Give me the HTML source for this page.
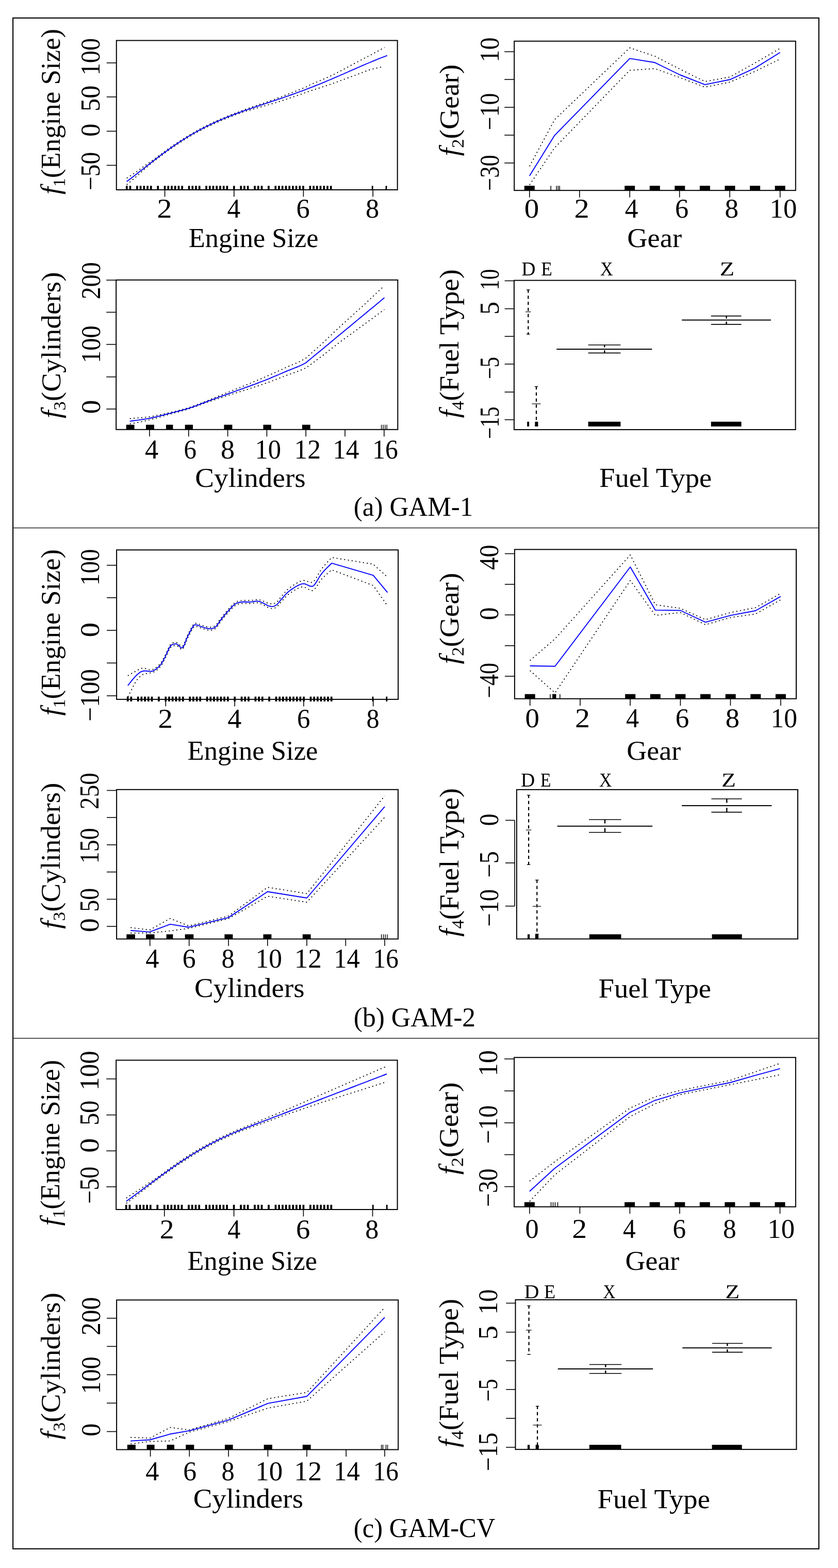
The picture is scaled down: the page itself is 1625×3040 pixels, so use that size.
<!DOCTYPE html>
<html><head><meta charset="utf-8"><title>GAM partial effects</title>
<style>html,body{margin:0;padding:0;background:#fff;}svg{display:block;}text{font-family:'Liberation Serif', 'DejaVu Serif', serif;fill:#000;}</style>
</head><body>
<svg width="1625" height="3040" viewBox="0 0 1625 3040">
<rect x="0" y="0" width="1625" height="3040" fill="#fff"/>
<rect x="25.1" y="34.9" width="1562.8" height="2967.9" fill="none" stroke="#000" stroke-width="2.1"/>
<line x1="25" y1="1023.5" x2="1588" y2="1023.5" stroke="#222" stroke-width="1.4"/>
<line x1="25" y1="2013" x2="1588" y2="2013" stroke="#222" stroke-width="1.4"/>
<rect x="225.8" y="78.5" width="544.9" height="289.5" fill="none" stroke="#000" stroke-width="2.0"/>
<line x1="206.8" y1="121.9" x2="225.8" y2="121.9" stroke="#000" stroke-width="1.6"/>
<line x1="206.8" y1="187.9" x2="225.8" y2="187.9" stroke="#000" stroke-width="1.6"/>
<line x1="206.8" y1="254.4" x2="225.8" y2="254.4" stroke="#000" stroke-width="1.6"/>
<line x1="206.8" y1="320.5" x2="225.8" y2="320.5" stroke="#000" stroke-width="1.6"/>
<line x1="319.6" y1="368" x2="319.6" y2="381.5" stroke="#000" stroke-width="1.6"/>
<line x1="453.8" y1="368" x2="453.8" y2="381.5" stroke="#000" stroke-width="1.6"/>
<line x1="588.4" y1="368" x2="588.4" y2="381.5" stroke="#000" stroke-width="1.6"/>
<line x1="723.2" y1="368" x2="723.2" y2="381.5" stroke="#000" stroke-width="1.6"/>
<line x1="245.8" y1="360.3" x2="245.8" y2="368" stroke="#000" stroke-width="3.7"/>
<line x1="252.5" y1="360.3" x2="252.5" y2="368" stroke="#000" stroke-width="3.7"/>
<line x1="265.9" y1="360.3" x2="265.9" y2="368" stroke="#000" stroke-width="3.7"/>
<line x1="272.6" y1="360.3" x2="272.6" y2="368" stroke="#000" stroke-width="3.7"/>
<line x1="279.3" y1="360.3" x2="279.3" y2="368" stroke="#000" stroke-width="3.7"/>
<line x1="286.1" y1="360.3" x2="286.1" y2="368" stroke="#000" stroke-width="3.7"/>
<line x1="292.8" y1="360.3" x2="292.8" y2="368" stroke="#000" stroke-width="3.7"/>
<line x1="306.2" y1="360.3" x2="306.2" y2="368" stroke="#000" stroke-width="3.7"/>
<line x1="319.6" y1="360.3" x2="319.6" y2="368" stroke="#000" stroke-width="3.7"/>
<line x1="326.3" y1="360.3" x2="326.3" y2="368" stroke="#000" stroke-width="3.7"/>
<line x1="333" y1="360.3" x2="333" y2="368" stroke="#000" stroke-width="3.7"/>
<line x1="339.7" y1="360.3" x2="339.7" y2="368" stroke="#000" stroke-width="3.7"/>
<line x1="346.4" y1="360.3" x2="346.4" y2="368" stroke="#000" stroke-width="3.7"/>
<line x1="353.2" y1="360.3" x2="353.2" y2="368" stroke="#000" stroke-width="3.7"/>
<line x1="366.6" y1="360.3" x2="366.6" y2="368" stroke="#000" stroke-width="3.7"/>
<line x1="373.3" y1="360.3" x2="373.3" y2="368" stroke="#000" stroke-width="3.7"/>
<line x1="380" y1="360.3" x2="380" y2="368" stroke="#000" stroke-width="3.7"/>
<line x1="386.7" y1="360.3" x2="386.7" y2="368" stroke="#000" stroke-width="3.7"/>
<line x1="400.1" y1="360.3" x2="400.1" y2="368" stroke="#000" stroke-width="3.7"/>
<line x1="406.8" y1="360.3" x2="406.8" y2="368" stroke="#000" stroke-width="3.7"/>
<line x1="413.5" y1="360.3" x2="413.5" y2="368" stroke="#000" stroke-width="3.7"/>
<line x1="420.2" y1="360.3" x2="420.2" y2="368" stroke="#000" stroke-width="3.7"/>
<line x1="427" y1="360.3" x2="427" y2="368" stroke="#000" stroke-width="3.7"/>
<line x1="433.7" y1="360.3" x2="433.7" y2="368" stroke="#000" stroke-width="3.7"/>
<line x1="440.4" y1="360.3" x2="440.4" y2="368" stroke="#000" stroke-width="3.7"/>
<line x1="453.8" y1="360.3" x2="453.8" y2="368" stroke="#000" stroke-width="3.7"/>
<line x1="467.2" y1="360.3" x2="467.2" y2="368" stroke="#000" stroke-width="3.7"/>
<line x1="473.9" y1="360.3" x2="473.9" y2="368" stroke="#000" stroke-width="3.7"/>
<line x1="480.6" y1="360.3" x2="480.6" y2="368" stroke="#000" stroke-width="3.7"/>
<line x1="494.1" y1="360.3" x2="494.1" y2="368" stroke="#000" stroke-width="3.7"/>
<line x1="500.8" y1="360.3" x2="500.8" y2="368" stroke="#000" stroke-width="3.7"/>
<line x1="507.5" y1="360.3" x2="507.5" y2="368" stroke="#000" stroke-width="3.7"/>
<line x1="520.9" y1="360.3" x2="520.9" y2="368" stroke="#000" stroke-width="3.7"/>
<line x1="534.3" y1="360.3" x2="534.3" y2="368" stroke="#000" stroke-width="3.7"/>
<line x1="541" y1="360.3" x2="541" y2="368" stroke="#000" stroke-width="3.7"/>
<line x1="547.7" y1="360.3" x2="547.7" y2="368" stroke="#000" stroke-width="3.7"/>
<line x1="554.5" y1="360.3" x2="554.5" y2="368" stroke="#000" stroke-width="3.7"/>
<line x1="561.2" y1="360.3" x2="561.2" y2="368" stroke="#000" stroke-width="3.7"/>
<line x1="567.9" y1="360.3" x2="567.9" y2="368" stroke="#000" stroke-width="3.7"/>
<line x1="574.6" y1="360.3" x2="574.6" y2="368" stroke="#000" stroke-width="3.7"/>
<line x1="581.3" y1="360.3" x2="581.3" y2="368" stroke="#000" stroke-width="3.7"/>
<line x1="588" y1="360.3" x2="588" y2="368" stroke="#000" stroke-width="3.7"/>
<line x1="601.4" y1="360.3" x2="601.4" y2="368" stroke="#000" stroke-width="3.7"/>
<line x1="608.1" y1="360.3" x2="608.1" y2="368" stroke="#000" stroke-width="3.7"/>
<line x1="614.8" y1="360.3" x2="614.8" y2="368" stroke="#000" stroke-width="3.7"/>
<line x1="621.5" y1="360.3" x2="621.5" y2="368" stroke="#000" stroke-width="3.7"/>
<line x1="628.3" y1="360.3" x2="628.3" y2="368" stroke="#000" stroke-width="3.7"/>
<line x1="635" y1="360.3" x2="635" y2="368" stroke="#000" stroke-width="3.7"/>
<line x1="641.7" y1="360.3" x2="641.7" y2="368" stroke="#000" stroke-width="3.7"/>
<line x1="722.2" y1="360.3" x2="722.2" y2="368" stroke="#000" stroke-width="2.8"/>
<line x1="749" y1="360.3" x2="749" y2="368" stroke="#000" stroke-width="2.8"/>
<polyline points="245.7,345.3 249.7,342.8 253.7,340.2 257.7,337.6 261.7,335 265.7,332.3 269.7,329.4 273.7,326.5 277.7,323.5 281.7,320.6 285.7,317.8 289.7,315 293.7,312.2 297.7,309.5 301.7,306.7 305.7,303.6 309.7,300.6 313.7,297.7 317.7,294.7 321.7,291.8 325.7,289 329.7,286.2 333.7,283.4 337.7,280.6 341.7,278 345.7,275.3 349.7,272.7 353.7,270.2 357.7,267.7 361.7,265.2 365.7,262.7 369.7,260.3 373.7,258 377.7,255.7 381.7,253.5 385.7,251.2 389.7,249.1 393.7,247 397.7,244.9 401.7,242.9 405.7,240.9 409.7,239 413.7,237.1 417.7,235.3 421.7,233.5 425.7,231.7 429.7,230 433.7,228.3 437.7,226.6 441.7,225 445.7,223.4 449.7,221.8 453.7,220.3 457.7,218.8 461.7,217.3 465.7,215.8 469.7,214.3 473.7,212.9 477.7,211.4 481.7,210 485.7,208.6 489.7,207.2 493.7,205.8 497.7,204.4 501.7,203 505.7,201.7 509.7,200.3 513.7,198.9 517.7,197.6 521.7,196.2 525.7,194.8 529.7,193.5 533.7,192 537.7,190.5 541.7,189 545.7,187.5 549.7,186 553.7,184.4 557.7,182.9 561.7,181.3 565.7,179.8 569.7,178.2 573.7,176.6 577.7,175 581.7,173.4 585.7,171.8 589.7,170.1 593.7,168.5 597.7,166.4 601.7,164.2 605.7,162.5 609.7,160.9 613.7,159.2 617.7,157.5 621.7,155.8 625.7,154.1 629.7,152.3 633.7,150.6 637.7,148.8 641.7,147 645.7,145.2 649.7,143.2 653.7,141 657.7,138.9 661.7,136.8 665.7,134.7 669.7,132.5 673.7,130.4 677.7,128.2 681.7,126.1 685.7,123.9 689.7,121.8 693.7,119.7 697.7,117.6 701.7,115.5 705.7,113.4 709.7,111.3 713.7,109.3 717.7,107.2 721.7,105.1 725.7,102.8 729.7,100.7 733.7,98.5 737.7,96.3 741.7,94.2 745.7,92.1" fill="none" stroke="#000" stroke-width="1.75" stroke-linejoin="round" stroke-dasharray="2.2 5.2"/>
<polyline points="245.7,358.2 249.7,354.8 253.7,351.4 257.7,348 261.7,344.6 265.7,341.1 269.7,337.5 273.7,333.9 277.7,330.3 281.7,326.6 285.7,323.1 289.7,319.8 293.7,316.6 297.7,313.4 301.7,310.2 305.7,307.2 309.7,304.2 313.7,301.2 317.7,298.2 321.7,295.3 325.7,292.4 329.7,289.5 333.7,286.7 337.7,284 341.7,281.3 345.7,278.6 349.7,276 353.7,273.4 357.7,270.8 361.7,268.4 365.7,265.9 369.7,263.6 373.7,261.2 377.7,258.9 381.7,256.7 385.7,254.5 389.7,252.4 393.7,250.3 397.7,248.2 401.7,246.2 405.7,244.3 409.7,242.4 413.7,240.5 417.7,238.7 421.7,236.9 425.7,235.1 429.7,233.4 433.7,231.7 437.7,230.1 441.7,228.5 445.7,226.9 449.7,225.3 453.7,223.8 457.7,222.3 461.7,220.8 465.7,219.4 469.7,217.9 473.7,216.7 477.7,215.5 481.7,214.3 485.7,213.1 489.7,212 493.7,210.8 497.7,209.7 501.7,208.5 505.7,207.4 509.7,206.2 513.7,205.1 517.7,204 521.7,202.9 525.7,201.7 529.7,200.6 533.7,199.4 537.7,198.1 541.7,196.8 545.7,195.5 549.7,194.2 553.7,192.9 557.7,191.6 561.7,190.2 565.7,188.9 569.7,187.5 573.7,186.1 577.7,184.8 581.7,183.4 585.7,181.9 589.7,180.5 593.7,179 597.7,177.6 601.7,176.2 605.7,174.9 609.7,173.7 613.7,172.4 617.7,171.1 621.7,169.8 625.7,168.4 629.7,167.1 633.7,165.7 637.7,164.4 641.7,163 645.7,161.6 649.7,160.2 653.7,158.7 657.7,157.3 661.7,155.8 665.7,154.3 669.7,152.9 673.7,151.4 677.7,149.9 681.7,148.4 685.7,146.9 689.7,145.4 693.7,143.9 697.7,142.4 701.7,140.9 705.7,139.4 709.7,137.9 713.7,136.4 717.7,135 721.7,133.9 725.7,133 729.7,132 733.7,131.1 737.7,130.3 741.7,129.4" fill="none" stroke="#000" stroke-width="1.75" stroke-linejoin="round" stroke-dasharray="2.2 5.2"/>
<polyline points="245.7,351.9 249.7,348.9 253.7,345.9 257.7,342.9 261.7,339.8 265.7,336.7 269.7,333.6 273.7,330.5 277.7,327.4 281.7,324.2 285.7,321.1 289.7,317.9 293.7,314.8 297.7,311.7 301.7,308.6 305.7,305.6 309.7,302.6 313.7,299.6 317.7,296.6 321.7,293.7 325.7,290.8 329.7,287.9 333.7,285.1 337.7,282.3 341.7,279.6 345.7,276.9 349.7,274.3 353.7,271.7 357.7,269.2 361.7,266.7 365.7,264.3 369.7,261.9 373.7,259.5 377.7,257.2 381.7,255 385.7,252.8 389.7,250.7 393.7,248.6 397.7,246.5 401.7,244.5 405.7,242.6 409.7,240.6 413.7,238.8 417.7,236.9 421.7,235.1 425.7,233.4 429.7,231.7 433.7,230 437.7,228.3 441.7,226.7 445.7,225.1 449.7,223.6 453.7,222 457.7,220.5 461.7,219 465.7,217.6 469.7,216.1 473.7,214.7 477.7,213.3 481.7,211.9 485.7,210.6 489.7,209.2 493.7,207.8 497.7,206.5 501.7,205.1 505.7,203.8 509.7,202.5 513.7,201.2 517.7,199.8 521.7,198.5 525.7,197.2 529.7,195.8 533.7,194.5 537.7,193.2 541.7,191.8 545.7,190.5 549.7,189.1 553.7,187.7 557.7,186.3 561.7,184.9 565.7,183.5 569.7,182.1 573.7,180.7 577.7,179.2 581.7,177.7 585.7,176.3 589.7,174.8 593.7,173.2 597.7,171.7 601.7,170.2 605.7,168.6 609.7,167 613.7,165.4 617.7,163.8 621.7,162.2 625.7,160.6 629.7,158.9 633.7,157.2 637.7,155.5 641.7,153.8 645.7,152.1 649.7,150.4 653.7,148.7 657.7,147 661.7,145.2 665.7,143.5 669.7,141.7 673.7,140 677.7,138.2 681.7,136.4 685.7,134.7 689.7,132.9 693.7,131.2 697.7,129.4 701.7,127.7 705.7,125.9 709.7,124.2 713.7,122.5 717.7,120.8 721.7,119.1 725.7,117.5 729.7,115.9 733.7,114.2 737.7,112.7 741.7,111.1 745.7,109.6 749.7,108.1 750.8,107.7" fill="none" stroke="#0000ff" stroke-width="1.9" stroke-linejoin="round"/>
<rect x="997.2" y="79.8" width="545.6" height="289.4" fill="none" stroke="#000" stroke-width="2.0"/>
<line x1="978.2" y1="100.3" x2="997.2" y2="100.3" stroke="#000" stroke-width="1.6"/>
<line x1="978.2" y1="154.1" x2="997.2" y2="154.1" stroke="#000" stroke-width="1.6"/>
<line x1="978.2" y1="208.1" x2="997.2" y2="208.1" stroke="#000" stroke-width="1.6"/>
<line x1="978.2" y1="262" x2="997.2" y2="262" stroke="#000" stroke-width="1.6"/>
<line x1="978.2" y1="316" x2="997.2" y2="316" stroke="#000" stroke-width="1.6"/>
<line x1="1026.8" y1="369.2" x2="1026.8" y2="382.7" stroke="#000" stroke-width="1.6"/>
<line x1="1123.8" y1="369.2" x2="1123.8" y2="382.7" stroke="#000" stroke-width="1.6"/>
<line x1="1221.2" y1="369.2" x2="1221.2" y2="382.7" stroke="#000" stroke-width="1.6"/>
<line x1="1317.7" y1="369.2" x2="1317.7" y2="382.7" stroke="#000" stroke-width="1.6"/>
<line x1="1415.1" y1="369.2" x2="1415.1" y2="382.7" stroke="#000" stroke-width="1.6"/>
<line x1="1512.7" y1="369.2" x2="1512.7" y2="382.7" stroke="#000" stroke-width="1.6"/>
<rect x="1016.8" y="360.2" width="20" height="9" fill="#000"/>
<rect x="1211.2" y="360.2" width="20" height="9" fill="#000"/>
<rect x="1259.8" y="360.2" width="20" height="9" fill="#000"/>
<rect x="1308.3" y="360.2" width="20" height="9" fill="#000"/>
<rect x="1356.9" y="360.2" width="20" height="9" fill="#000"/>
<rect x="1405.5" y="360.2" width="20" height="9" fill="#000"/>
<rect x="1454.1" y="360.2" width="20" height="9" fill="#000"/>
<rect x="1502.7" y="360.2" width="20" height="9" fill="#000"/>
<line x1="1068.2" y1="360.2" x2="1068.2" y2="369.2" stroke="#000" stroke-width="1.5"/>
<line x1="1079.1" y1="360.2" x2="1079.1" y2="369.2" stroke="#000" stroke-width="1.5"/>
<line x1="1082.4" y1="360.2" x2="1082.4" y2="369.2" stroke="#000" stroke-width="1.5"/>
<line x1="1085.2" y1="360.2" x2="1085.2" y2="369.2" stroke="#000" stroke-width="1.5"/>
<polyline points="1026.8,322.5 1075.4,232.1 1221.2,92.7 1269.8,109 1318.3,134 1366.9,158 1415.5,149.3 1464.1,122 1512.7,93.8" fill="none" stroke="#000" stroke-width="1.75" stroke-linejoin="round" stroke-dasharray="2.2 5.2"/>
<polyline points="1026.8,358.5 1075.4,286.6 1221.2,136.3 1269.8,133 1318.3,150.4 1366.9,169 1415.5,159.1 1464.1,138.4 1512.7,114.5" fill="none" stroke="#000" stroke-width="1.75" stroke-linejoin="round" stroke-dasharray="2.2 5.2"/>
<polyline points="1026.8,341 1075.4,262.6 1221.2,113.4 1269.8,121.3 1318.3,145 1366.9,164.1 1415.5,154.3 1464.1,131.9 1512.7,101.8" fill="none" stroke="#0000ff" stroke-width="1.9" stroke-linejoin="round"/>
<rect x="225.2" y="542.8" width="546.1" height="290" fill="none" stroke="#000" stroke-width="2.0"/>
<line x1="206.2" y1="543.1" x2="225.2" y2="543.1" stroke="#000" stroke-width="1.6"/>
<line x1="206.2" y1="605.4" x2="225.2" y2="605.4" stroke="#000" stroke-width="1.6"/>
<line x1="206.2" y1="667.7" x2="225.2" y2="667.7" stroke="#000" stroke-width="1.6"/>
<line x1="206.2" y1="730.7" x2="225.2" y2="730.7" stroke="#000" stroke-width="1.6"/>
<line x1="206.2" y1="793" x2="225.2" y2="793" stroke="#000" stroke-width="1.6"/>
<line x1="290" y1="832.8" x2="290" y2="846.3" stroke="#000" stroke-width="1.6"/>
<line x1="365.8" y1="832.8" x2="365.8" y2="846.3" stroke="#000" stroke-width="1.6"/>
<line x1="441.6" y1="832.8" x2="441.6" y2="846.3" stroke="#000" stroke-width="1.6"/>
<line x1="517.4" y1="832.8" x2="517.4" y2="846.3" stroke="#000" stroke-width="1.6"/>
<line x1="593.2" y1="832.8" x2="593.2" y2="846.3" stroke="#000" stroke-width="1.6"/>
<line x1="669" y1="832.8" x2="669" y2="846.3" stroke="#000" stroke-width="1.6"/>
<line x1="744.8" y1="832.8" x2="744.8" y2="846.3" stroke="#000" stroke-width="1.6"/>
<rect x="244.7" y="823.5" width="15.9" height="9.3" fill="#000"/>
<rect x="283" y="823.5" width="16" height="9.3" fill="#000"/>
<rect x="322" y="823.5" width="13.4" height="9.3" fill="#000"/>
<rect x="358.7" y="823.5" width="15.3" height="9.3" fill="#000"/>
<rect x="434.4" y="823.5" width="16" height="9.3" fill="#000"/>
<rect x="510.5" y="823.5" width="15.3" height="9.3" fill="#000"/>
<rect x="585.9" y="823.5" width="15.8" height="9.3" fill="#000"/>
<line x1="739.6" y1="823.5" x2="739.6" y2="832.8" stroke="#000" stroke-width="1.4"/>
<line x1="743.2" y1="823.5" x2="743.2" y2="832.8" stroke="#000" stroke-width="1.4"/>
<line x1="746.8" y1="823.5" x2="746.8" y2="832.8" stroke="#000" stroke-width="1.4"/>
<line x1="750.2" y1="823.5" x2="750.2" y2="832.8" stroke="#000" stroke-width="1.4"/>
<polyline points="251.7,811.6 254.7,811.3 258.6,811 263.3,810.7 268.5,810.3 274,809.8 279.6,809.2 285,808.6 290,808 294.7,807.2 299.5,806.3 304.2,805.4 308.9,804.4 313.6,803.4 318.3,802.3 323.1,801.3 327.8,800.2 332.5,799.1 337.3,798 342.1,796.8 346.8,795.6 351.6,794.4 356.4,793.1 361.1,791.8 365.8,790.4 370.5,788.8 375.1,787.2 379.7,785.5 384.3,783.7 388.9,781.9 393.6,780.1 398.2,778.3 403,776.5 407.8,774.5 412.8,772.5 417.7,770.5 422.7,768.5 427.7,766.5 432.7,764.4 437.6,762.4 442.5,760.5 447.3,758.5 452,756.6 456.7,754.7 461.4,752.8 466,751 470.7,749.1 475.3,747.2 480,745.2 484.7,743.3 489.4,741.3 494.2,739.4 498.9,737.4 503.7,735.4 508.4,733.3 513.1,731.3 517.8,729.2 522.6,727.1 527.4,724.9 532.3,722.7 537.2,720.5 542,718.3 546.6,716.2 550.9,714.2 555,712.3 558.8,710.7 562.4,709.1 565.8,707.6 569,706.3 572,705 574.9,703.8 577.5,702.6 580,701.5 582.3,700.4 584.4,699.3 586.4,698.2 588.1,697.2 589.7,696.3 591,695.5 592.2,694.9 593.1,694.3 597.1,690.8 601.1,687.3 605.1,683.7 609.1,680.2 613.1,676.6 617.1,673.1 621.2,669.4 625.2,665.6 629.2,661.8 633.2,658 637.2,654.2 641.2,650.4 645.2,646.6 649.2,642.8 653.2,639 657.2,635.2 661.2,631.4 665.2,627.7 669.2,624.1 673.3,620.5 677.3,616.9 681.3,613.3 685.3,609.6 689.3,606 693.3,602.4 697.3,598.8 701.3,595.2 705.3,591.5 709.3,587.8 713.3,584 717.3,580.2 721.4,576.4 725.4,572.6 729.4,568.9 733.4,565.1 737.4,561.3 741.4,557.5" fill="none" stroke="#000" stroke-width="1.75" stroke-linejoin="round" stroke-dasharray="2.2 5.2"/>
<polyline points="251.7,821.9 254.7,821.3 258.6,820.6 263.3,819.7 268.5,818.7 274,817.6 279.6,816.4 285,815.2 290,814 294.7,812.9 299.5,811.6 304.2,810.3 308.9,809 313.6,807.6 318.3,806.2 323.1,804.8 327.8,803.4 332.5,802.1 337.3,800.8 342.1,799.6 346.8,798.3 351.6,797 356.4,795.7 361.1,794.3 365.8,792.8 370.5,791.3 375.1,789.7 379.7,788.1 384.3,786.4 388.9,784.7 393.6,783 398.2,781.2 403,779.5 407.8,777.9 412.8,776.3 417.7,774.7 422.7,773 427.7,771.4 432.7,769.7 437.6,768.1 442.5,766.5 447.3,765 452,763.5 456.7,762.1 461.4,760.6 466,759.2 470.7,757.7 475.3,756.3 480,754.8 484.7,753.2 489.4,751.7 494.2,750.2 498.9,748.6 503.7,747 508.4,745.4 513.1,743.8 517.8,742.2 522.6,740.5 527.4,738.6 532.3,736.8 537.2,734.9 542,733 546.6,731.2 550.9,729.6 555,728 558.8,726.6 562.4,725.3 565.8,724.1 569,723 572,721.9 574.9,720.9 577.5,719.9 580,718.9 582.3,718 584.4,717.1 586.4,716.3 588.1,715.6 589.7,714.9 591,714.3 592.2,713.8 593.1,713.5 597.1,710.5 601.1,707.6 605.1,704.6 609.1,701.7 613.1,698.7 617.1,695.8 621.2,692.7 625.2,689.6 629.2,686.5 633.2,683.3 637.2,680.2 641.2,677.1 645.2,674 649.2,670.9 653.2,667.8 657.2,664.7 661.2,661.7 665.2,658.8 669.2,655.8 673.3,652.9 677.3,650 681.3,647.1 685.3,644.1 689.3,641.2 693.3,638.3 697.3,635.4 701.3,632.4 705.3,629.5 709.3,626.5 713.3,623.6 717.3,620.7 721.4,617.7 725.4,614.8 729.4,611.8 733.4,608.9 737.4,605.9 741.4,603 745.4,600" fill="none" stroke="#000" stroke-width="1.75" stroke-linejoin="round" stroke-dasharray="2.2 5.2"/>
<polyline points="251.7,816.6 254.7,816.2 258.6,815.7 263.3,815.1 268.5,814.4 274,813.6 279.6,812.8 285,811.9 290,811 294.7,810 299.5,809 304.2,807.9 308.9,806.7 313.6,805.5 318.3,804.3 323.1,803 327.8,801.8 332.5,800.6 337.3,799.4 342.1,798.2 346.8,797 351.6,795.7 356.4,794.4 361.1,793 365.8,791.6 370.5,790.1 375.1,788.5 379.7,786.8 384.3,785.1 388.9,783.3 393.6,781.5 398.2,779.8 403,778 407.8,776.2 412.8,774.4 417.7,772.6 422.7,770.7 427.7,768.9 432.7,767.1 437.6,765.3 442.5,763.5 447.3,761.8 452,760.1 456.7,758.4 461.4,756.7 466,755.1 470.7,753.4 475.3,751.7 480,750 484.7,748.3 489.4,746.5 494.2,744.8 498.9,743 503.7,741.2 508.4,739.4 513.1,737.6 517.8,735.7 522.6,733.8 527.4,731.7 532.3,729.7 537.2,727.6 542,725.5 546.6,723.6 550.9,721.7 555,720 558.8,718.4 562.4,717 565.8,715.6 569,714.4 572,713.2 574.9,712 577.5,711 580,709.9 582.3,708.9 584.4,707.9 586.4,706.9 588.1,706 589.7,705.2 591,704.5 592.2,703.9 593.1,703.4 597.1,700.1 601.1,696.8 605.1,693.4 609.1,690.1 613.1,686.8 617.1,683.5 621.2,680.2 625.2,676.9 629.2,673.5 633.2,670.2 637.2,666.9 641.2,663.6 645.2,660.3 649.2,656.9 653.2,653.6 657.2,650.3 661.2,647 665.2,643.7 669.2,640.3 673.3,637 677.3,633.7 681.3,630.4 685.3,627.1 689.3,623.8 693.3,620.4 697.3,617.1 701.3,613.8 705.3,610.5 709.3,607.2 713.3,603.8 717.3,600.5 721.4,597.2 725.4,593.9 729.4,590.6 733.4,587.3 737.4,583.9 741.4,580.6 745.4,577.3" fill="none" stroke="#0000ff" stroke-width="1.9" stroke-linejoin="round"/>
<rect x="996.9" y="543.6" width="545.7" height="289.4" fill="none" stroke="#000" stroke-width="2.0"/>
<line x1="978.6" y1="544.4" x2="996.9" y2="544.4" stroke="#000" stroke-width="1.6"/>
<line x1="978.6" y1="598.6" x2="996.9" y2="598.6" stroke="#000" stroke-width="1.6"/>
<line x1="978.6" y1="652.2" x2="996.9" y2="652.2" stroke="#000" stroke-width="1.6"/>
<line x1="978.6" y1="705.8" x2="996.9" y2="705.8" stroke="#000" stroke-width="1.6"/>
<line x1="978.6" y1="760.1" x2="996.9" y2="760.1" stroke="#000" stroke-width="1.6"/>
<line x1="978.6" y1="813.7" x2="996.9" y2="813.7" stroke="#000" stroke-width="1.6"/>
<line x1="1024.3" y1="561.4" x2="1024.3" y2="648.5" stroke="#000" stroke-width="2.2" stroke-dasharray="6.3 5.5"/>
<line x1="1021.1" y1="562" x2="1027.5" y2="562" stroke="#000" stroke-width="1.4"/>
<line x1="1021.1" y1="647.9" x2="1027.5" y2="647.9" stroke="#000" stroke-width="1.4"/>
<line x1="1019" y1="604.6" x2="1029.5" y2="604.6" stroke="#333" stroke-width="1.5"/>
<line x1="1040" y1="748.9" x2="1040" y2="825.5" stroke="#000" stroke-width="2.2" stroke-dasharray="6.3 5.5"/>
<line x1="1036.8" y1="749.5" x2="1043.2" y2="749.5" stroke="#000" stroke-width="1.4"/>
<line x1="1036.8" y1="824.9" x2="1043.2" y2="824.9" stroke="#000" stroke-width="1.4"/>
<line x1="1031.4" y1="782.9" x2="1048.4" y2="782.9" stroke="#333" stroke-width="1.5"/>
<line x1="1079.2" y1="676.9" x2="1264.4" y2="676.9" stroke="#000" stroke-width="2.0"/>
<line x1="1140.6" y1="668.7" x2="1203.4" y2="668.7" stroke="#000" stroke-width="1.6"/>
<line x1="1140.6" y1="684.4" x2="1203.4" y2="684.4" stroke="#000" stroke-width="1.6"/>
<line x1="1172.3" y1="668.7" x2="1172.3" y2="673.4" stroke="#000" stroke-width="2.4"/>
<line x1="1172.3" y1="679.2" x2="1172.3" y2="684.4" stroke="#000" stroke-width="2.4"/>
<line x1="1322.2" y1="620.6" x2="1495" y2="620.6" stroke="#000" stroke-width="2.0"/>
<line x1="1378.8" y1="612.6" x2="1437.6" y2="612.6" stroke="#000" stroke-width="1.6"/>
<line x1="1378.8" y1="628.9" x2="1437.6" y2="628.9" stroke="#000" stroke-width="1.6"/>
<line x1="1408.6" y1="612.6" x2="1408.6" y2="617.5" stroke="#000" stroke-width="2.4"/>
<line x1="1408.6" y1="623.5" x2="1408.6" y2="628.9" stroke="#000" stroke-width="2.4"/>
<rect x="1022.2" y="817.6" width="3.9" height="9.2" fill="#000"/>
<rect x="1037.4" y="817.6" width="6" height="9.2" fill="#000"/>
<rect x="1140.6" y="817.6" width="62.8" height="9.2" fill="#000"/>
<rect x="1378.8" y="817.6" width="58.8" height="9.2" fill="#000"/>
<rect x="226.1" y="1066.2" width="546" height="289.7" fill="none" stroke="#000" stroke-width="2.0"/>
<line x1="207.1" y1="1095.9" x2="226.1" y2="1095.9" stroke="#000" stroke-width="1.6"/>
<line x1="207.1" y1="1158.8" x2="226.1" y2="1158.8" stroke="#000" stroke-width="1.6"/>
<line x1="207.1" y1="1222.1" x2="226.1" y2="1222.1" stroke="#000" stroke-width="1.6"/>
<line x1="207.1" y1="1285.4" x2="226.1" y2="1285.4" stroke="#000" stroke-width="1.6"/>
<line x1="207.1" y1="1349" x2="226.1" y2="1349" stroke="#000" stroke-width="1.6"/>
<line x1="321.3" y1="1355.9" x2="321.3" y2="1369.4" stroke="#000" stroke-width="1.6"/>
<line x1="455.2" y1="1355.9" x2="455.2" y2="1369.4" stroke="#000" stroke-width="1.6"/>
<line x1="588.9" y1="1355.9" x2="588.9" y2="1369.4" stroke="#000" stroke-width="1.6"/>
<line x1="723.7" y1="1355.9" x2="723.7" y2="1369.4" stroke="#000" stroke-width="1.6"/>
<line x1="247.7" y1="1350.6" x2="247.7" y2="1360" stroke="#000" stroke-width="3.7"/>
<line x1="254.4" y1="1350.6" x2="254.4" y2="1360" stroke="#000" stroke-width="3.7"/>
<line x1="267.7" y1="1350.6" x2="267.7" y2="1360" stroke="#000" stroke-width="3.7"/>
<line x1="274.4" y1="1350.6" x2="274.4" y2="1360" stroke="#000" stroke-width="3.7"/>
<line x1="281.1" y1="1350.6" x2="281.1" y2="1360" stroke="#000" stroke-width="3.7"/>
<line x1="287.8" y1="1350.6" x2="287.8" y2="1360" stroke="#000" stroke-width="3.7"/>
<line x1="294.5" y1="1350.6" x2="294.5" y2="1360" stroke="#000" stroke-width="3.7"/>
<line x1="307.9" y1="1350.6" x2="307.9" y2="1360" stroke="#000" stroke-width="3.7"/>
<line x1="321.3" y1="1350.6" x2="321.3" y2="1360" stroke="#000" stroke-width="3.7"/>
<line x1="328" y1="1350.6" x2="328" y2="1360" stroke="#000" stroke-width="3.7"/>
<line x1="334.7" y1="1350.6" x2="334.7" y2="1360" stroke="#000" stroke-width="3.7"/>
<line x1="341.4" y1="1350.6" x2="341.4" y2="1360" stroke="#000" stroke-width="3.7"/>
<line x1="348.1" y1="1350.6" x2="348.1" y2="1360" stroke="#000" stroke-width="3.7"/>
<line x1="354.8" y1="1350.6" x2="354.8" y2="1360" stroke="#000" stroke-width="3.7"/>
<line x1="368.2" y1="1350.6" x2="368.2" y2="1360" stroke="#000" stroke-width="3.7"/>
<line x1="374.9" y1="1350.6" x2="374.9" y2="1360" stroke="#000" stroke-width="3.7"/>
<line x1="381.6" y1="1350.6" x2="381.6" y2="1360" stroke="#000" stroke-width="3.7"/>
<line x1="388.2" y1="1350.6" x2="388.2" y2="1360" stroke="#000" stroke-width="3.7"/>
<line x1="401.6" y1="1350.6" x2="401.6" y2="1360" stroke="#000" stroke-width="3.7"/>
<line x1="408.3" y1="1350.6" x2="408.3" y2="1360" stroke="#000" stroke-width="3.7"/>
<line x1="415" y1="1350.6" x2="415" y2="1360" stroke="#000" stroke-width="3.7"/>
<line x1="421.7" y1="1350.6" x2="421.7" y2="1360" stroke="#000" stroke-width="3.7"/>
<line x1="428.4" y1="1350.6" x2="428.4" y2="1360" stroke="#000" stroke-width="3.7"/>
<line x1="435.1" y1="1350.6" x2="435.1" y2="1360" stroke="#000" stroke-width="3.7"/>
<line x1="441.8" y1="1350.6" x2="441.8" y2="1360" stroke="#000" stroke-width="3.7"/>
<line x1="455.2" y1="1350.6" x2="455.2" y2="1360" stroke="#000" stroke-width="3.7"/>
<line x1="468.6" y1="1350.6" x2="468.6" y2="1360" stroke="#000" stroke-width="3.7"/>
<line x1="475.3" y1="1350.6" x2="475.3" y2="1360" stroke="#000" stroke-width="3.7"/>
<line x1="482" y1="1350.6" x2="482" y2="1360" stroke="#000" stroke-width="3.7"/>
<line x1="495.4" y1="1350.6" x2="495.4" y2="1360" stroke="#000" stroke-width="3.7"/>
<line x1="502.1" y1="1350.6" x2="502.1" y2="1360" stroke="#000" stroke-width="3.7"/>
<line x1="508.8" y1="1350.6" x2="508.8" y2="1360" stroke="#000" stroke-width="3.7"/>
<line x1="522.1" y1="1350.6" x2="522.1" y2="1360" stroke="#000" stroke-width="3.7"/>
<line x1="535.5" y1="1350.6" x2="535.5" y2="1360" stroke="#000" stroke-width="3.7"/>
<line x1="542.2" y1="1350.6" x2="542.2" y2="1360" stroke="#000" stroke-width="3.7"/>
<line x1="548.9" y1="1350.6" x2="548.9" y2="1360" stroke="#000" stroke-width="3.7"/>
<line x1="555.6" y1="1350.6" x2="555.6" y2="1360" stroke="#000" stroke-width="3.7"/>
<line x1="562.3" y1="1350.6" x2="562.3" y2="1360" stroke="#000" stroke-width="3.7"/>
<line x1="569" y1="1350.6" x2="569" y2="1360" stroke="#000" stroke-width="3.7"/>
<line x1="575.7" y1="1350.6" x2="575.7" y2="1360" stroke="#000" stroke-width="3.7"/>
<line x1="582.4" y1="1350.6" x2="582.4" y2="1360" stroke="#000" stroke-width="3.7"/>
<line x1="589.1" y1="1350.6" x2="589.1" y2="1360" stroke="#000" stroke-width="3.7"/>
<line x1="602.5" y1="1350.6" x2="602.5" y2="1360" stroke="#000" stroke-width="3.7"/>
<line x1="609.2" y1="1350.6" x2="609.2" y2="1360" stroke="#000" stroke-width="3.7"/>
<line x1="615.9" y1="1350.6" x2="615.9" y2="1360" stroke="#000" stroke-width="3.7"/>
<line x1="622.6" y1="1350.6" x2="622.6" y2="1360" stroke="#000" stroke-width="3.7"/>
<line x1="629.3" y1="1350.6" x2="629.3" y2="1360" stroke="#000" stroke-width="3.7"/>
<line x1="636" y1="1350.6" x2="636" y2="1360" stroke="#000" stroke-width="3.7"/>
<line x1="642.7" y1="1350.6" x2="642.7" y2="1360" stroke="#000" stroke-width="3.7"/>
<line x1="723" y1="1350.6" x2="723" y2="1360" stroke="#000" stroke-width="2.8"/>
<line x1="749.8" y1="1350.6" x2="749.8" y2="1360" stroke="#000" stroke-width="2.8"/>
<polyline points="247.9,1310.1 249.8,1309 252.3,1307.4 255.4,1305.5 258.6,1303.7 261.8,1302.1 264.5,1301 266.8,1299.5 268.9,1298.1 270.8,1297.1 272.8,1296.3 274.9,1295.7 277.3,1295.5 280,1295.7 282.9,1296.4 285.9,1297.4 289,1298.4 292,1298.7 294.8,1298.3 297.4,1297.3 300,1295.9 302.5,1294.3 304.9,1292.5 307.1,1290.5 309.2,1288.4 311.1,1286.3 312.7,1284.1 314.2,1281.7 315.7,1279.2 317.2,1276.4 318.8,1273.4 320.6,1269.8 322.5,1265.7 324.5,1261.3 326.4,1257 328.3,1253.3 330,1250.4 331.5,1248.5 333,1247.2 334.3,1246.5 335.6,1246.1 336.8,1245.9 338,1245.6 339.1,1245.4 340.1,1245.3 341,1245.4 342,1245.7 343.1,1246.1 344.3,1246.6 345.7,1247.6 347.3,1249.3 349,1251 350.7,1252.5 352.4,1253.2 354,1252.7 355.6,1250.8 357.1,1247.8 358.7,1244 360.2,1239.8 361.8,1235.7 363.5,1231.9 365.3,1228.2 367.3,1224.3 369.3,1220.4 371.3,1216.7 373.1,1213.5 374.7,1211.1 376,1209.5 377,1208.7 377.9,1208.3 378.8,1208.3 379.8,1208.4 381.1,1208.6 382.7,1208.9 384.4,1209.5 386.2,1210.3 388.2,1211.2 390.2,1212 392.3,1212.7 394.5,1213.4 397,1214.1 399.5,1214.8 401.9,1215.3 404.4,1215.7 406.6,1215.9 408.7,1215.8 410.6,1215.7 412.5,1215.3 414.3,1214.7 416.1,1213.9 417.8,1212.7 419.4,1211.2 420.9,1209.3 422.4,1207.2 423.9,1204.9 425.5,1202.4 427.4,1199.9 429.5,1197.2 431.8,1194.3 434.3,1191.2 436.8,1188.2 439.3,1185.2 441.8,1182.4 444.2,1179.7 446.7,1177 449.1,1174.3 451.5,1171.9 453.9,1169.8 456.2,1168 458.4,1166.7 460.4,1165.8 462.4,1165.2 464.5,1164.8 466.6,1164.5 468.9,1164.2 471.4,1164 473.9,1164 476.6,1164 479.4,1164.2 482.1,1164.2 484.9,1164.2 487.6,1163.9 490.4,1163.5 493.1,1163 496,1162.6 498.9,1162.5 502,1162.7 505.4,1163.5 509,1164.9 512.8,1166.5 516.5,1168.2 520,1169.5 523,1170.3 525.6,1170.7 527.8,1170.8 529.8,1170.5 531.6,1170 533.4,1169.2 535.3,1168.1 537.2,1166.7 539,1164.8 540.7,1162.7 542.5,1160.4 544.3,1158 546.4,1155.6 548.5,1153.2 550.7,1150.6 552.9,1148 555.4,1145.3 558.1,1142.6 561.2,1140.1 564.8,1137.4 569,1134.6 573.4,1131.7 577.8,1129.2 582.1,1127.2 585.9,1125.9 589.3,1125.4 592.6,1125.9 595.6,1126.9 598.4,1128.1 601,1129 603.2,1129.3 604.9,1129.2 606.2,1128.9 607.1,1128.5 608,1127.6 609.1,1126.3 610.6,1124.4 612.4,1121.7 614.5,1118.3 616.7,1114.4 619,1110.2 621.5,1106.1 624.2,1102.2 627.3,1098.4 630.8,1094.3 634.6,1090.2 638.1,1086.4 641.1,1083.2 643.2,1080.9 723.7,1093.8 751.4,1119" fill="none" stroke="#000" stroke-width="1.75" stroke-linejoin="round" stroke-dasharray="2.2 5.2"/>
<polyline points="247.9,1351.1 249.8,1347.5 252.3,1342.4 255.4,1336.5 258.6,1330.2 261.8,1324.4 264.5,1319.7 266.8,1316.6 268.9,1314.3 270.8,1312.3 272.8,1310.5 274.9,1309 277.3,1307.6 280,1306.5 282.9,1305.8 285.9,1305.4 289,1304.9 292,1304.7 294.8,1304.3 297.4,1303.3 300,1301.9 302.5,1300.3 304.9,1298.5 307.1,1296.5 309.2,1294.4 311.1,1292.3 312.7,1290.1 314.2,1287.7 315.7,1285.2 317.2,1282.4 318.8,1279.4 320.6,1275.8 322.5,1271.7 324.5,1267.3 326.4,1263 328.3,1259.3 330,1256.4 331.5,1254.5 333,1253.2 334.3,1252.5 335.6,1252.1 336.8,1251.9 338,1251.6 339.1,1251.4 340.1,1251.3 341,1251.4 342,1251.7 343.1,1252.1 344.3,1252.6 345.7,1253.6 347.3,1255.3 349,1257 350.7,1258.5 352.4,1259.2 354,1258.7 355.6,1256.8 357.1,1253.8 358.7,1250 360.2,1245.8 361.8,1241.7 363.5,1237.9 365.3,1234.2 367.3,1230.3 369.3,1226.4 371.3,1222.7 373.1,1219.5 374.7,1217.1 376,1215.5 377,1214.7 377.9,1214.3 378.8,1214.3 379.8,1214.4 381.1,1214.6 382.7,1214.9 384.4,1215.5 386.2,1216.3 388.2,1217.2 390.2,1218 392.3,1218.7 394.5,1219.4 397,1220.1 399.5,1220.8 401.9,1221.3 404.4,1221.7 406.6,1221.9 408.7,1221.8 410.6,1221.7 412.5,1221.3 414.3,1220.7 416.1,1219.9 417.8,1218.7 419.4,1217.2 420.9,1215.3 422.4,1213.2 423.9,1210.9 425.5,1208.4 427.4,1205.9 429.5,1203.2 431.8,1200.3 434.3,1197.2 436.8,1194.2 439.3,1191.2 441.8,1188.4 444.2,1185.7 446.7,1183 449.1,1180.3 451.5,1177.9 453.9,1175.8 456.2,1174 458.4,1172.7 460.4,1171.8 462.4,1171.2 464.5,1170.8 466.6,1170.5 468.9,1170.2 471.4,1170 473.9,1170 476.6,1170 479.4,1170.2 482.1,1170.2 484.9,1170.2 487.6,1169.9 490.4,1169.5 493.1,1169 496,1168.6 498.9,1168.5 502,1169 505.4,1170.2 509,1172 512.8,1174.1 516.5,1176.2 520,1178 523,1179.1 525.6,1179.6 527.8,1179.8 529.8,1179.7 531.6,1179.3 533.4,1178.5 535.3,1177.5 537.2,1176.2 539,1174.4 540.7,1172.4 542.5,1170.2 544.3,1167.9 546.4,1165.6 548.5,1163.3 550.7,1160.8 552.9,1158.3 555.4,1155.7 558.1,1153.2 561.2,1150.8 564.8,1148.4 569,1145.7 573.4,1143.1 577.8,1140.8 582.1,1139 585.9,1137.9 589.3,1138.1 592.6,1139.3 595.6,1140.9 598.4,1142.6 601,1144.1 603.2,1144.9 604.9,1145.1 606.2,1145.1 607.1,1144.8 608,1144.2 609.1,1143.1 610.6,1141.5 612.4,1139.2 614.5,1136.2 616.7,1132.7 619,1129.1 621.5,1125.5 624.2,1122.2 627.3,1118.9 630.8,1115.6 634.6,1112.2 638.1,1109.2 641.1,1106.6 643.2,1104.7 723.7,1135.1 751.4,1174.6" fill="none" stroke="#000" stroke-width="1.75" stroke-linejoin="round" stroke-dasharray="2.2 5.2"/>
<polyline points="247.9,1329.1 249.8,1326.8 252.3,1323.5 255.4,1319.7 258.6,1315.8 261.8,1312.2 264.5,1309.3 266.8,1307.2 268.9,1305.4 270.8,1303.9 272.8,1302.7 274.9,1301.8 277.3,1301 280,1300.7 282.9,1300.8 285.9,1301.2 289,1301.6 292,1301.7 294.8,1301.3 297.4,1300.3 300,1298.9 302.5,1297.3 304.9,1295.5 307.1,1293.5 309.2,1291.4 311.1,1289.3 312.7,1287.1 314.2,1284.7 315.7,1282.2 317.2,1279.4 318.8,1276.4 320.6,1272.8 322.5,1268.7 324.5,1264.3 326.4,1260 328.3,1256.3 330,1253.4 331.5,1251.5 333,1250.2 334.3,1249.5 335.6,1249.1 336.8,1248.9 338,1248.6 339.1,1248.4 340.1,1248.3 341,1248.4 342,1248.7 343.1,1249.1 344.3,1249.6 345.7,1250.6 347.3,1252.3 349,1254 350.7,1255.5 352.4,1256.2 354,1255.7 355.6,1253.8 357.1,1250.8 358.7,1247 360.2,1242.8 361.8,1238.7 363.5,1234.9 365.3,1231.2 367.3,1227.3 369.3,1223.4 371.3,1219.7 373.1,1216.5 374.7,1214.1 376,1212.5 377,1211.7 377.9,1211.3 378.8,1211.3 379.8,1211.4 381.1,1211.6 382.7,1211.9 384.4,1212.5 386.2,1213.3 388.2,1214.2 390.2,1215 392.3,1215.7 394.5,1216.4 397,1217.1 399.5,1217.8 401.9,1218.3 404.4,1218.7 406.6,1218.9 408.7,1218.8 410.6,1218.7 412.5,1218.3 414.3,1217.7 416.1,1216.9 417.8,1215.7 419.4,1214.2 420.9,1212.3 422.4,1210.2 423.9,1207.9 425.5,1205.4 427.4,1202.9 429.5,1200.2 431.8,1197.3 434.3,1194.2 436.8,1191.2 439.3,1188.2 441.8,1185.4 444.2,1182.7 446.7,1180 449.1,1177.3 451.5,1174.9 453.9,1172.8 456.2,1171 458.4,1169.7 460.4,1168.8 462.4,1168.2 464.5,1167.8 466.6,1167.5 468.9,1167.2 471.4,1167 473.9,1167 476.6,1167 479.4,1167.2 482.1,1167.2 484.9,1167.2 487.6,1166.9 490.4,1166.5 493.1,1166 496,1165.6 498.9,1165.5 502,1165.9 505.4,1167 509,1168.7 512.8,1170.6 516.5,1172.6 520,1174.3 523,1175.3 525.6,1175.7 527.8,1175.9 529.8,1175.7 531.6,1175.2 533.4,1174.4 535.3,1173.3 537.2,1171.9 539,1170.1 540.7,1168 542.5,1165.7 544.3,1163.3 546.4,1161 548.5,1158.6 550.7,1156.1 552.9,1153.4 555.4,1150.8 558.1,1148.2 561.2,1145.7 564.8,1143.1 569,1140.3 573.4,1137.5 577.8,1135.1 582.1,1133.1 585.9,1131.9 589.3,1131.7 592.6,1132.5 595.6,1133.8 598.4,1135.1 601,1136.3 603.2,1136.8 604.9,1136.8 606.2,1136.7 607.1,1136.3 608,1135.6 609.1,1134.4 610.6,1132.6 612.4,1130.1 614.5,1126.8 616.7,1123.1 619,1119.1 621.5,1115.2 624.2,1111.6 627.3,1108 630.8,1104.2 634.6,1100.4 638.1,1097 641.1,1094 643.2,1091.9 723.7,1115.3 751.4,1148.6" fill="none" stroke="#0000ff" stroke-width="1.9" stroke-linejoin="round"/>
<rect x="997.9" y="1065.3" width="546.1" height="289.4" fill="none" stroke="#000" stroke-width="2.0"/>
<line x1="978.9" y1="1073.5" x2="997.9" y2="1073.5" stroke="#000" stroke-width="1.6"/>
<line x1="978.9" y1="1132.8" x2="997.9" y2="1132.8" stroke="#000" stroke-width="1.6"/>
<line x1="978.9" y1="1192.2" x2="997.9" y2="1192.2" stroke="#000" stroke-width="1.6"/>
<line x1="978.9" y1="1251.8" x2="997.9" y2="1251.8" stroke="#000" stroke-width="1.6"/>
<line x1="978.9" y1="1311.1" x2="997.9" y2="1311.1" stroke="#000" stroke-width="1.6"/>
<line x1="1027.7" y1="1354.7" x2="1027.7" y2="1368.2" stroke="#000" stroke-width="1.6"/>
<line x1="1125" y1="1354.7" x2="1125" y2="1368.2" stroke="#000" stroke-width="1.6"/>
<line x1="1222" y1="1354.7" x2="1222" y2="1368.2" stroke="#000" stroke-width="1.6"/>
<line x1="1319.4" y1="1354.7" x2="1319.4" y2="1368.2" stroke="#000" stroke-width="1.6"/>
<line x1="1416.5" y1="1354.7" x2="1416.5" y2="1368.2" stroke="#000" stroke-width="1.6"/>
<line x1="1513.9" y1="1354.7" x2="1513.9" y2="1368.2" stroke="#000" stroke-width="1.6"/>
<rect x="1017.7" y="1345.7" width="20" height="9" fill="#000"/>
<rect x="1212.2" y="1345.7" width="20" height="9" fill="#000"/>
<rect x="1260.8" y="1345.7" width="20" height="9" fill="#000"/>
<rect x="1309.4" y="1345.7" width="20" height="9" fill="#000"/>
<rect x="1358" y="1345.7" width="20" height="9" fill="#000"/>
<rect x="1406.7" y="1345.7" width="20" height="9" fill="#000"/>
<rect x="1455.3" y="1345.7" width="20" height="9" fill="#000"/>
<rect x="1503.9" y="1345.7" width="20" height="9" fill="#000"/>
<line x1="1067" y1="1345.7" x2="1067" y2="1354.7" stroke="#000" stroke-width="1.5"/>
<line x1="1072" y1="1345.7" x2="1072" y2="1354.7" stroke="#000" stroke-width="1.5"/>
<line x1="1074.5" y1="1345.7" x2="1074.5" y2="1354.7" stroke="#000" stroke-width="1.5"/>
<line x1="1077" y1="1345.7" x2="1077" y2="1354.7" stroke="#000" stroke-width="1.5"/>
<line x1="1085.8" y1="1345.7" x2="1085.8" y2="1354.7" stroke="#000" stroke-width="1.5"/>
<rect x="1071.4" y="1345.7" width="7" height="9" fill="#000"/>
<polyline points="1027.7,1280.5 1076.3,1238.5 1222.2,1075.9 1270.8,1172.5 1319.4,1179.4 1368,1201.4 1416.7,1187.6 1465.3,1178 1513.9,1150.4" fill="none" stroke="#000" stroke-width="1.75" stroke-linejoin="round" stroke-dasharray="2.2 5.2"/>
<polyline points="1027.7,1300.1 1076.3,1343.3 1222.2,1125.5 1270.8,1193.1 1319.4,1187.6 1368,1211.1 1416.7,1197.3 1465.3,1190.4 1513.9,1162.8" fill="none" stroke="#000" stroke-width="1.75" stroke-linejoin="round" stroke-dasharray="2.2 5.2"/>
<polyline points="1027.7,1291 1076.3,1291.8 1222.2,1099.3 1270.8,1182.9 1319.4,1183.5 1368,1206.4 1416.7,1193.1 1465.3,1184 1513.9,1156.4" fill="none" stroke="#0000ff" stroke-width="1.9" stroke-linejoin="round"/>
<rect x="226.1" y="1530.8" width="545.8" height="289.7" fill="none" stroke="#000" stroke-width="2.0"/>
<line x1="207.1" y1="1532.5" x2="226.1" y2="1532.5" stroke="#000" stroke-width="1.6"/>
<line x1="207.1" y1="1584.9" x2="226.1" y2="1584.9" stroke="#000" stroke-width="1.6"/>
<line x1="207.1" y1="1637.9" x2="226.1" y2="1637.9" stroke="#000" stroke-width="1.6"/>
<line x1="207.1" y1="1690.6" x2="226.1" y2="1690.6" stroke="#000" stroke-width="1.6"/>
<line x1="207.1" y1="1743.4" x2="226.1" y2="1743.4" stroke="#000" stroke-width="1.6"/>
<line x1="207.1" y1="1796.1" x2="226.1" y2="1796.1" stroke="#000" stroke-width="1.6"/>
<line x1="290.7" y1="1820.5" x2="290.7" y2="1834" stroke="#000" stroke-width="1.6"/>
<line x1="366.7" y1="1820.5" x2="366.7" y2="1834" stroke="#000" stroke-width="1.6"/>
<line x1="443.1" y1="1820.5" x2="443.1" y2="1834" stroke="#000" stroke-width="1.6"/>
<line x1="518.8" y1="1820.5" x2="518.8" y2="1834" stroke="#000" stroke-width="1.6"/>
<line x1="595" y1="1820.5" x2="595" y2="1834" stroke="#000" stroke-width="1.6"/>
<line x1="670.3" y1="1820.5" x2="670.3" y2="1834" stroke="#000" stroke-width="1.6"/>
<line x1="746" y1="1820.5" x2="746" y2="1834" stroke="#000" stroke-width="1.6"/>
<rect x="245.3" y="1811.4" width="16.6" height="9.1" fill="#000"/>
<rect x="283" y="1811.4" width="16.6" height="9.1" fill="#000"/>
<rect x="322.6" y="1811.4" width="12.8" height="9.1" fill="#000"/>
<rect x="358.7" y="1811.4" width="16.6" height="9.1" fill="#000"/>
<rect x="435.4" y="1811.4" width="16" height="9.1" fill="#000"/>
<rect x="510.5" y="1811.4" width="15.9" height="9.1" fill="#000"/>
<rect x="586.8" y="1811.4" width="15.8" height="9.1" fill="#000"/>
<line x1="739.6" y1="1811.4" x2="739.6" y2="1820.5" stroke="#000" stroke-width="1.4"/>
<line x1="743.5" y1="1811.4" x2="743.5" y2="1820.5" stroke="#000" stroke-width="1.4"/>
<line x1="747.2" y1="1811.4" x2="747.2" y2="1820.5" stroke="#000" stroke-width="1.4"/>
<line x1="751" y1="1811.4" x2="751" y2="1820.5" stroke="#000" stroke-width="1.4"/>
<polyline points="253.3,1798.3 290,1803.1 330,1780.7 366.1,1795.1 442.7,1776.1 518.8,1720.3 595,1732.5 746,1543" fill="none" stroke="#000" stroke-width="1.75" stroke-linejoin="round" stroke-dasharray="2.2 5.2"/>
<polyline points="253.3,1808.8 290,1808.8 330,1804.7 366.1,1799.9 442.7,1781.2 518.8,1737.6 595,1749.2 746,1584.5" fill="none" stroke="#000" stroke-width="1.75" stroke-linejoin="round" stroke-dasharray="2.2 5.2"/>
<polyline points="253.3,1804 290,1806.9 330,1791.9 366.1,1797.7 442.7,1779.1 518.8,1728.8 595,1741 746,1563.8" fill="none" stroke="#0000ff" stroke-width="1.9" stroke-linejoin="round"/>
<rect x="1001.9" y="1530.9" width="545.1" height="289.5" fill="none" stroke="#000" stroke-width="2.0"/>
<line x1="998" y1="1590.4" x2="998" y2="1756.7" stroke="#000" stroke-width="1.6"/>
<line x1="980" y1="1590.4" x2="998" y2="1590.4" stroke="#000" stroke-width="1.6"/>
<line x1="980" y1="1673" x2="998" y2="1673" stroke="#000" stroke-width="1.6"/>
<line x1="980" y1="1756.7" x2="998" y2="1756.7" stroke="#000" stroke-width="1.6"/>
<line x1="1025.1" y1="1541" x2="1025.1" y2="1676.9" stroke="#000" stroke-width="2.2" stroke-dasharray="6.3 5.5"/>
<line x1="1021.9" y1="1541.6" x2="1028.3" y2="1541.6" stroke="#000" stroke-width="1.4"/>
<line x1="1021.9" y1="1676.3" x2="1028.3" y2="1676.3" stroke="#000" stroke-width="1.4"/>
<line x1="1019.9" y1="1609.2" x2="1030.3" y2="1609.2" stroke="#333" stroke-width="1.5"/>
<line x1="1041.3" y1="1705.7" x2="1041.3" y2="1811.6" stroke="#000" stroke-width="2.2" stroke-dasharray="6.3 5.5"/>
<line x1="1038.1" y1="1706.3" x2="1044.5" y2="1706.3" stroke="#000" stroke-width="1.4"/>
<line x1="1038.1" y1="1811" x2="1044.5" y2="1811" stroke="#000" stroke-width="1.4"/>
<line x1="1033" y1="1757.2" x2="1049.2" y2="1757.2" stroke="#333" stroke-width="1.5"/>
<line x1="1080.6" y1="1601.7" x2="1265.2" y2="1601.7" stroke="#000" stroke-width="2.0"/>
<line x1="1142" y1="1589" x2="1204.5" y2="1589" stroke="#000" stroke-width="1.6"/>
<line x1="1142" y1="1613.7" x2="1204.5" y2="1613.7" stroke="#000" stroke-width="1.6"/>
<line x1="1173" y1="1589" x2="1173" y2="1596.4" stroke="#000" stroke-width="2.4"/>
<line x1="1173" y1="1605.5" x2="1173" y2="1613.7" stroke="#000" stroke-width="2.4"/>
<line x1="1322.2" y1="1561.9" x2="1496.5" y2="1561.9" stroke="#000" stroke-width="2.0"/>
<line x1="1379.5" y1="1548.8" x2="1438.7" y2="1548.8" stroke="#000" stroke-width="1.6"/>
<line x1="1379.5" y1="1574.6" x2="1438.7" y2="1574.6" stroke="#000" stroke-width="1.6"/>
<line x1="1409.3" y1="1548.8" x2="1409.3" y2="1556.5" stroke="#000" stroke-width="2.4"/>
<line x1="1409.3" y1="1566.1" x2="1409.3" y2="1574.6" stroke="#000" stroke-width="2.4"/>
<rect x="1023" y="1811.4" width="4.2" height="9" fill="#000"/>
<rect x="1037.9" y="1811.4" width="6.3" height="9" fill="#000"/>
<rect x="1142.8" y="1811.4" width="61.7" height="9" fill="#000"/>
<rect x="1380.6" y="1811.4" width="58.1" height="9" fill="#000"/>
<rect x="225.2" y="2055.5" width="545.4" height="289.5" fill="none" stroke="#000" stroke-width="2.0"/>
<line x1="206.2" y1="2091.7" x2="225.2" y2="2091.7" stroke="#000" stroke-width="1.6"/>
<line x1="206.2" y1="2161.6" x2="225.2" y2="2161.6" stroke="#000" stroke-width="1.6"/>
<line x1="206.2" y1="2231.3" x2="225.2" y2="2231.3" stroke="#000" stroke-width="1.6"/>
<line x1="206.2" y1="2300.9" x2="225.2" y2="2300.9" stroke="#000" stroke-width="1.6"/>
<line x1="318.8" y1="2345" x2="318.8" y2="2358.5" stroke="#000" stroke-width="1.6"/>
<line x1="453.6" y1="2345" x2="453.6" y2="2358.5" stroke="#000" stroke-width="1.6"/>
<line x1="588.4" y1="2345" x2="588.4" y2="2358.5" stroke="#000" stroke-width="1.6"/>
<line x1="722.5" y1="2345" x2="722.5" y2="2358.5" stroke="#000" stroke-width="1.6"/>
<line x1="244.7" y1="2335.8" x2="244.7" y2="2345" stroke="#000" stroke-width="3.7"/>
<line x1="251.4" y1="2335.8" x2="251.4" y2="2345" stroke="#000" stroke-width="3.7"/>
<line x1="264.9" y1="2335.8" x2="264.9" y2="2345" stroke="#000" stroke-width="3.7"/>
<line x1="271.6" y1="2335.8" x2="271.6" y2="2345" stroke="#000" stroke-width="3.7"/>
<line x1="278.4" y1="2335.8" x2="278.4" y2="2345" stroke="#000" stroke-width="3.7"/>
<line x1="285.1" y1="2335.8" x2="285.1" y2="2345" stroke="#000" stroke-width="3.7"/>
<line x1="291.8" y1="2335.8" x2="291.8" y2="2345" stroke="#000" stroke-width="3.7"/>
<line x1="305.3" y1="2335.8" x2="305.3" y2="2345" stroke="#000" stroke-width="3.7"/>
<line x1="318.8" y1="2335.8" x2="318.8" y2="2345" stroke="#000" stroke-width="3.7"/>
<line x1="325.5" y1="2335.8" x2="325.5" y2="2345" stroke="#000" stroke-width="3.7"/>
<line x1="332.3" y1="2335.8" x2="332.3" y2="2345" stroke="#000" stroke-width="3.7"/>
<line x1="339" y1="2335.8" x2="339" y2="2345" stroke="#000" stroke-width="3.7"/>
<line x1="345.8" y1="2335.8" x2="345.8" y2="2345" stroke="#000" stroke-width="3.7"/>
<line x1="352.5" y1="2335.8" x2="352.5" y2="2345" stroke="#000" stroke-width="3.7"/>
<line x1="366" y1="2335.8" x2="366" y2="2345" stroke="#000" stroke-width="3.7"/>
<line x1="372.7" y1="2335.8" x2="372.7" y2="2345" stroke="#000" stroke-width="3.7"/>
<line x1="379.5" y1="2335.8" x2="379.5" y2="2345" stroke="#000" stroke-width="3.7"/>
<line x1="386.2" y1="2335.8" x2="386.2" y2="2345" stroke="#000" stroke-width="3.7"/>
<line x1="399.7" y1="2335.8" x2="399.7" y2="2345" stroke="#000" stroke-width="3.7"/>
<line x1="406.4" y1="2335.8" x2="406.4" y2="2345" stroke="#000" stroke-width="3.7"/>
<line x1="413.2" y1="2335.8" x2="413.2" y2="2345" stroke="#000" stroke-width="3.7"/>
<line x1="419.9" y1="2335.8" x2="419.9" y2="2345" stroke="#000" stroke-width="3.7"/>
<line x1="426.6" y1="2335.8" x2="426.6" y2="2345" stroke="#000" stroke-width="3.7"/>
<line x1="433.4" y1="2335.8" x2="433.4" y2="2345" stroke="#000" stroke-width="3.7"/>
<line x1="440.1" y1="2335.8" x2="440.1" y2="2345" stroke="#000" stroke-width="3.7"/>
<line x1="453.6" y1="2335.8" x2="453.6" y2="2345" stroke="#000" stroke-width="3.7"/>
<line x1="467.1" y1="2335.8" x2="467.1" y2="2345" stroke="#000" stroke-width="3.7"/>
<line x1="473.8" y1="2335.8" x2="473.8" y2="2345" stroke="#000" stroke-width="3.7"/>
<line x1="480.6" y1="2335.8" x2="480.6" y2="2345" stroke="#000" stroke-width="3.7"/>
<line x1="494" y1="2335.8" x2="494" y2="2345" stroke="#000" stroke-width="3.7"/>
<line x1="500.8" y1="2335.8" x2="500.8" y2="2345" stroke="#000" stroke-width="3.7"/>
<line x1="507.5" y1="2335.8" x2="507.5" y2="2345" stroke="#000" stroke-width="3.7"/>
<line x1="521" y1="2335.8" x2="521" y2="2345" stroke="#000" stroke-width="3.7"/>
<line x1="534.5" y1="2335.8" x2="534.5" y2="2345" stroke="#000" stroke-width="3.7"/>
<line x1="541.2" y1="2335.8" x2="541.2" y2="2345" stroke="#000" stroke-width="3.7"/>
<line x1="548" y1="2335.8" x2="548" y2="2345" stroke="#000" stroke-width="3.7"/>
<line x1="554.7" y1="2335.8" x2="554.7" y2="2345" stroke="#000" stroke-width="3.7"/>
<line x1="561.4" y1="2335.8" x2="561.4" y2="2345" stroke="#000" stroke-width="3.7"/>
<line x1="568.2" y1="2335.8" x2="568.2" y2="2345" stroke="#000" stroke-width="3.7"/>
<line x1="574.9" y1="2335.8" x2="574.9" y2="2345" stroke="#000" stroke-width="3.7"/>
<line x1="581.7" y1="2335.8" x2="581.7" y2="2345" stroke="#000" stroke-width="3.7"/>
<line x1="588.4" y1="2335.8" x2="588.4" y2="2345" stroke="#000" stroke-width="3.7"/>
<line x1="601.9" y1="2335.8" x2="601.9" y2="2345" stroke="#000" stroke-width="3.7"/>
<line x1="608.6" y1="2335.8" x2="608.6" y2="2345" stroke="#000" stroke-width="3.7"/>
<line x1="615.4" y1="2335.8" x2="615.4" y2="2345" stroke="#000" stroke-width="3.7"/>
<line x1="622.1" y1="2335.8" x2="622.1" y2="2345" stroke="#000" stroke-width="3.7"/>
<line x1="628.8" y1="2335.8" x2="628.8" y2="2345" stroke="#000" stroke-width="3.7"/>
<line x1="635.6" y1="2335.8" x2="635.6" y2="2345" stroke="#000" stroke-width="3.7"/>
<line x1="642.3" y1="2335.8" x2="642.3" y2="2345" stroke="#000" stroke-width="3.7"/>
<line x1="723.2" y1="2335.8" x2="723.2" y2="2345" stroke="#000" stroke-width="2.8"/>
<line x1="750.2" y1="2335.8" x2="750.2" y2="2345" stroke="#000" stroke-width="2.8"/>
<polyline points="244.8,2322.7 248.8,2320.1 252.8,2317.6 256.8,2315 260.8,2312.4 264.8,2309.8 268.8,2307.1 272.8,2304.5 276.8,2301.8 280.8,2299.1 284.8,2296.5 288.8,2293.8 292.8,2291.1 296.8,2288.4 300.8,2285.7 304.8,2282.8 308.8,2279.8 312.8,2276.9 316.8,2274 320.8,2271.1 324.8,2268.2 328.8,2265.3 332.8,2262.5 336.8,2259.7 340.8,2256.9 344.8,2254.2 348.8,2251.5 352.8,2248.8 356.8,2246.2 360.8,2243.5 364.8,2241 368.8,2238.4 372.8,2235.9 376.8,2233.5 380.8,2231 384.8,2228.7 388.8,2226.3 392.8,2224 396.8,2221.7 400.8,2219.5 404.8,2217.3 408.8,2215.2 412.8,2213.1 416.8,2211 420.8,2209 424.8,2207 428.8,2205 432.8,2203.1 436.8,2201.2 440.8,2199.4 444.8,2197.6 448.8,2195.8 452.8,2194 456.8,2192.3 460.8,2190.6 464.8,2189 468.8,2187.4 472.8,2185.7 476.8,2184 484,2181.2 488,2179.5 492,2177.9 496,2176.3 500,2174.6 504,2173 508,2171.3 512,2169.7 516,2168.1 520,2166.4 524,2164.8 528,2163.1 532,2161.5 536,2159.9 540,2158.2 544,2156.6 548,2154.9 552,2153.2 556,2151.4 560,2149.7 564,2147.9 568,2146.2 572,2144.4 576,2142.7 580,2141 584,2139.2 588,2137.5 592,2135.7 596,2134 600,2132.2 604,2130.5 608,2128.8 612,2127 616,2125.3 620,2123.5 624,2121.8 628,2120 632,2118.3 636,2116.6 640,2114.8 644,2113.1 648,2111.4 652,2109.6 656,2107.9 660,2106.2 664,2104.4 668,2102.7 672,2101 676,2099.2 680,2097.5 684,2095.8 688,2094 692,2092.3 696,2090.5 700,2088.8 704,2087.1 708,2085.3 712,2083.6 716,2081.9 720,2080.1 724,2078.4 728,2076.7 732,2074.9 736,2073.2 740,2071.5 744,2069.7 748,2068 750.2,2067.1" fill="none" stroke="#000" stroke-width="1.75" stroke-linejoin="round" stroke-dasharray="2.2 5.2"/>
<polyline points="244.8,2333 248.8,2330.1 252.8,2327.1 256.8,2324.1 260.8,2321 264.8,2318 268.8,2314.9 272.8,2311.8 276.8,2308.7 280.8,2305.6 284.8,2302.5 288.8,2299.4 292.8,2296.3 296.8,2293.2 300.8,2290.1 304.8,2287.2 308.8,2284.2 312.8,2281.3 316.8,2278.4 320.8,2275.5 324.8,2272.7 328.8,2269.8 332.8,2267 336.8,2264.2 340.8,2261.5 344.8,2258.8 348.8,2256.1 352.8,2253.4 356.8,2250.8 360.8,2248.2 364.8,2245.6 368.8,2243.1 372.8,2240.6 376.8,2238.1 380.8,2235.7 384.8,2233.4 388.8,2231 392.8,2228.7 396.8,2226.5 400.8,2224.3 404.8,2222.1 408.8,2220 412.8,2217.9 416.8,2215.8 420.8,2213.8 424.8,2211.8 428.8,2209.9 432.8,2208 436.8,2206.1 440.8,2204.3 444.8,2202.5 448.8,2200.7 452.8,2199 456.8,2197.3 460.8,2195.6 464.8,2194 468.8,2192.4 472.8,2190.8 476.8,2189.3 484,2186.8 488,2185.4 492,2183.9 496,2182.5 500,2181 504,2179.5 508,2178.1 512,2176.6 516,2175.2 520,2173.7 524,2172.3 528,2170.8 532,2169.3 536,2167.9 540,2166.4 544,2165 548,2163.5 552,2162.1 556,2160.7 560,2159.3 564,2158 568,2156.6 572,2155.2 576,2153.8 580,2152.5 584,2151.1 588,2149.7 592,2148.4 596,2147 600,2145.6 604,2144.2 608,2142.9 612,2141.5 616,2140.1 620,2138.8 624,2137.4 628,2136.1 632,2134.8 636,2133.5 640,2132.3 644,2131 648,2129.7 652,2128.4 656,2127.2 660,2125.9 664,2124.6 668,2123.4 672,2122.1 676,2120.8 680,2119.6 684,2118.3 688,2117 692,2115.7 696,2114.5 700,2113.2 704,2111.9 708,2110.7 712,2109.4 716,2108.1 720,2106.9 724,2105.6 728,2104.3 732,2103 736,2101.8 740,2100.5 744,2099.2 748,2098 750.2,2097.3" fill="none" stroke="#000" stroke-width="1.75" stroke-linejoin="round" stroke-dasharray="2.2 5.2"/>
<polyline points="244.8,2329.1 248.8,2326.2 252.8,2323.4 256.8,2320.5 260.8,2317.6 264.8,2314.6 268.8,2311.7 272.8,2308.7 276.8,2305.8 280.8,2302.8 284.8,2299.8 288.8,2296.8 292.8,2293.9 296.8,2290.9 300.8,2287.9 304.8,2285 308.8,2282 312.8,2279.1 316.8,2276.2 320.8,2273.3 324.8,2270.4 328.8,2267.6 332.8,2264.8 336.8,2262 340.8,2259.2 344.8,2256.5 348.8,2253.8 352.8,2251.1 356.8,2248.5 360.8,2245.9 364.8,2243.3 368.8,2240.8 372.8,2238.3 376.8,2235.8 380.8,2233.4 384.8,2231 388.8,2228.7 392.8,2226.4 396.8,2224.1 400.8,2221.9 404.8,2219.7 408.8,2217.6 412.8,2215.5 416.8,2213.4 420.8,2211.4 424.8,2209.4 428.8,2207.4 432.8,2205.5 436.8,2203.7 440.8,2201.8 444.8,2200 448.8,2198.2 452.8,2196.5 456.8,2194.8 460.8,2193.1 464.8,2191.5 468.8,2189.9 472.8,2188.3 476.8,2186.7 484,2184.1 488,2182.5 492,2181 496,2179.5 500,2177.9 504,2176.4 508,2174.9 512,2173.3 516,2171.8 520,2170.3 524,2168.8 528,2167.2 532,2165.7 536,2164.2 540,2162.6 544,2161.1 548,2159.6 552,2158 556,2156.5 560,2155 564,2153.4 568,2151.9 572,2150.4 576,2148.8 580,2147.3 584,2145.8 588,2144.3 592,2142.7 596,2141.2 600,2139.7 604,2138.1 608,2136.6 612,2135.1 616,2133.5 620,2132 624,2130.5 628,2128.9 632,2127.4 636,2125.9 640,2124.3 644,2122.8 648,2121.3 652,2119.7 656,2118.2 660,2116.7 664,2115.2 668,2113.6 672,2112.1 676,2110.6 680,2109 684,2107.5 688,2106 692,2104.4 696,2102.9 700,2101.4 704,2099.8 708,2098.3 712,2096.8 716,2095.2 720,2093.7 724,2092.2 728,2090.7 732,2089.1 736,2087.6 740,2086.1 744,2084.5 748,2083 750.2,2082.2" fill="none" stroke="#0000ff" stroke-width="1.9" stroke-linejoin="round"/>
<rect x="997.1" y="2050.2" width="545.8" height="289.5" fill="none" stroke="#000" stroke-width="2.0"/>
<line x1="978.1" y1="2053" x2="997.1" y2="2053" stroke="#000" stroke-width="1.6"/>
<line x1="978.1" y1="2115" x2="997.1" y2="2115" stroke="#000" stroke-width="1.6"/>
<line x1="978.1" y1="2176.9" x2="997.1" y2="2176.9" stroke="#000" stroke-width="1.6"/>
<line x1="978.1" y1="2238.6" x2="997.1" y2="2238.6" stroke="#000" stroke-width="1.6"/>
<line x1="978.1" y1="2300.6" x2="997.1" y2="2300.6" stroke="#000" stroke-width="1.6"/>
<line x1="1026.9" y1="2339.7" x2="1026.9" y2="2353.2" stroke="#000" stroke-width="1.6"/>
<line x1="1124.4" y1="2339.7" x2="1124.4" y2="2353.2" stroke="#000" stroke-width="1.6"/>
<line x1="1221.4" y1="2339.7" x2="1221.4" y2="2353.2" stroke="#000" stroke-width="1.6"/>
<line x1="1318" y1="2339.7" x2="1318" y2="2353.2" stroke="#000" stroke-width="1.6"/>
<line x1="1415.1" y1="2339.7" x2="1415.1" y2="2353.2" stroke="#000" stroke-width="1.6"/>
<line x1="1512.5" y1="2339.7" x2="1512.5" y2="2353.2" stroke="#000" stroke-width="1.6"/>
<rect x="1016.9" y="2330.7" width="20" height="9" fill="#000"/>
<rect x="1211.1" y="2330.7" width="20" height="9" fill="#000"/>
<rect x="1259.7" y="2330.7" width="20" height="9" fill="#000"/>
<rect x="1308.3" y="2330.7" width="20" height="9" fill="#000"/>
<rect x="1356.8" y="2330.7" width="20" height="9" fill="#000"/>
<rect x="1405.4" y="2330.7" width="20" height="9" fill="#000"/>
<rect x="1453.9" y="2330.7" width="20" height="9" fill="#000"/>
<rect x="1502.5" y="2330.7" width="20" height="9" fill="#000"/>
<line x1="1068.5" y1="2330.7" x2="1068.5" y2="2339.7" stroke="#000" stroke-width="1.5"/>
<line x1="1072.5" y1="2330.7" x2="1072.5" y2="2339.7" stroke="#000" stroke-width="1.5"/>
<line x1="1076.5" y1="2330.7" x2="1076.5" y2="2339.7" stroke="#000" stroke-width="1.5"/>
<line x1="1081.5" y1="2330.7" x2="1081.5" y2="2339.7" stroke="#000" stroke-width="1.5"/>
<polyline points="1026.9,2290.1 1075.5,2252.5 1221.1,2148.7 1269.7,2126.6 1318.3,2114.2 1415.4,2094.8 1512.5,2061.7" fill="none" stroke="#000" stroke-width="1.75" stroke-linejoin="round" stroke-dasharray="2.2 5.2"/>
<polyline points="1026.9,2329.3 1075.5,2278 1221.1,2165.2 1269.7,2140.4 1318.3,2122.4 1415.4,2103.1 1512.5,2083.8" fill="none" stroke="#000" stroke-width="1.75" stroke-linejoin="round" stroke-dasharray="2.2 5.2"/>
<polyline points="1026.9,2309.7 1075.5,2265.3 1221.1,2156.9 1269.7,2133.5 1318.3,2118.9 1366.8,2108.6 1415.4,2099 1463.9,2085.2 1512.5,2071.9" fill="none" stroke="#0000ff" stroke-width="1.9" stroke-linejoin="round"/>
<rect x="226.1" y="2520.4" width="546.1" height="290.1" fill="none" stroke="#000" stroke-width="2.0"/>
<line x1="207.1" y1="2555.7" x2="226.1" y2="2555.7" stroke="#000" stroke-width="1.6"/>
<line x1="207.1" y1="2610.4" x2="226.1" y2="2610.4" stroke="#000" stroke-width="1.6"/>
<line x1="207.1" y1="2665.3" x2="226.1" y2="2665.3" stroke="#000" stroke-width="1.6"/>
<line x1="207.1" y1="2720.3" x2="226.1" y2="2720.3" stroke="#000" stroke-width="1.6"/>
<line x1="207.1" y1="2775.5" x2="226.1" y2="2775.5" stroke="#000" stroke-width="1.6"/>
<line x1="291.6" y1="2810.5" x2="291.6" y2="2824" stroke="#000" stroke-width="1.6"/>
<line x1="367.3" y1="2810.5" x2="367.3" y2="2824" stroke="#000" stroke-width="1.6"/>
<line x1="443.1" y1="2810.5" x2="443.1" y2="2824" stroke="#000" stroke-width="1.6"/>
<line x1="519.4" y1="2810.5" x2="519.4" y2="2824" stroke="#000" stroke-width="1.6"/>
<line x1="595" y1="2810.5" x2="595" y2="2824" stroke="#000" stroke-width="1.6"/>
<line x1="671.2" y1="2810.5" x2="671.2" y2="2824" stroke="#000" stroke-width="1.6"/>
<line x1="746" y1="2810.5" x2="746" y2="2824" stroke="#000" stroke-width="1.6"/>
<rect x="246.9" y="2801" width="16" height="9.5" fill="#000"/>
<rect x="284.6" y="2801" width="15" height="9.5" fill="#000"/>
<rect x="323.6" y="2801" width="14.4" height="9.5" fill="#000"/>
<rect x="360.3" y="2801" width="16" height="9.5" fill="#000"/>
<rect x="436" y="2801" width="15.6" height="9.5" fill="#000"/>
<rect x="511.7" y="2801" width="16.2" height="9.5" fill="#000"/>
<rect x="586.8" y="2801" width="15.8" height="9.5" fill="#000"/>
<line x1="739.6" y1="2801" x2="739.6" y2="2810.5" stroke="#000" stroke-width="1.4"/>
<line x1="742.5" y1="2801" x2="742.5" y2="2810.5" stroke="#000" stroke-width="1.4"/>
<line x1="748.5" y1="2801" x2="748.5" y2="2810.5" stroke="#000" stroke-width="1.4"/>
<line x1="751.6" y1="2801" x2="751.6" y2="2810.5" stroke="#000" stroke-width="1.4"/>
<polyline points="253.3,2786.7 290.7,2788.3 330,2767.5 367.3,2772.3 443.1,2749.9 519.4,2711.8 595,2699.6 746,2534.9" fill="none" stroke="#000" stroke-width="1.75" stroke-linejoin="round" stroke-dasharray="2.2 5.2"/>
<polyline points="253.3,2799.5 290.7,2794.7 330,2793.7 367.3,2776.5 443.1,2756 519.4,2730.1 595,2716.4 746,2582.2" fill="none" stroke="#000" stroke-width="1.75" stroke-linejoin="round" stroke-dasharray="2.2 5.2"/>
<polyline points="253.3,2793.7 290.7,2791.5 330,2780.3 367.3,2773.9 443.1,2753.1 519.4,2720.9 595,2707.2 746,2554.1" fill="none" stroke="#0000ff" stroke-width="1.9" stroke-linejoin="round"/>
<rect x="999.5" y="2520" width="544.9" height="290.1" fill="none" stroke="#000" stroke-width="2.0"/>
<line x1="981.2" y1="2526.5" x2="999.5" y2="2526.5" stroke="#000" stroke-width="1.6"/>
<line x1="981.2" y1="2582.7" x2="999.5" y2="2582.7" stroke="#000" stroke-width="1.6"/>
<line x1="981.2" y1="2638.2" x2="999.5" y2="2638.2" stroke="#000" stroke-width="1.6"/>
<line x1="981.2" y1="2693.9" x2="999.5" y2="2693.9" stroke="#000" stroke-width="1.6"/>
<line x1="981.2" y1="2749.8" x2="999.5" y2="2749.8" stroke="#000" stroke-width="1.6"/>
<line x1="981.2" y1="2806" x2="999.5" y2="2806" stroke="#000" stroke-width="1.6"/>
<line x1="1025.6" y1="2531" x2="1025.6" y2="2626.4" stroke="#000" stroke-width="2.2" stroke-dasharray="6.3 5.5"/>
<line x1="1022.4" y1="2531.6" x2="1028.8" y2="2531.6" stroke="#000" stroke-width="1.4"/>
<line x1="1022.4" y1="2625.8" x2="1028.8" y2="2625.8" stroke="#000" stroke-width="1.4"/>
<line x1="1019.9" y1="2578.8" x2="1030.8" y2="2578.8" stroke="#333" stroke-width="1.5"/>
<line x1="1042.1" y1="2725.8" x2="1042.1" y2="2805.5" stroke="#000" stroke-width="2.2" stroke-dasharray="6.3 5.5"/>
<line x1="1038.9" y1="2726.4" x2="1045.3" y2="2726.4" stroke="#000" stroke-width="1.4"/>
<line x1="1038.9" y1="2804.9" x2="1045.3" y2="2804.9" stroke="#000" stroke-width="1.4"/>
<line x1="1033.5" y1="2762.9" x2="1050.5" y2="2762.9" stroke="#333" stroke-width="1.5"/>
<line x1="1081.8" y1="2654.1" x2="1266.2" y2="2654.1" stroke="#000" stroke-width="2.0"/>
<line x1="1142.8" y1="2645.5" x2="1205.2" y2="2645.5" stroke="#000" stroke-width="1.6"/>
<line x1="1142.8" y1="2662.8" x2="1205.2" y2="2662.8" stroke="#000" stroke-width="1.6"/>
<line x1="1174.3" y1="2645.5" x2="1174.3" y2="2650.7" stroke="#000" stroke-width="2.4"/>
<line x1="1174.3" y1="2657.1" x2="1174.3" y2="2662.8" stroke="#000" stroke-width="2.4"/>
<line x1="1323.3" y1="2613.3" x2="1496.5" y2="2613.3" stroke="#000" stroke-width="2.0"/>
<line x1="1381" y1="2604.5" x2="1440.2" y2="2604.5" stroke="#000" stroke-width="1.6"/>
<line x1="1381" y1="2621.6" x2="1440.2" y2="2621.6" stroke="#000" stroke-width="1.6"/>
<line x1="1410.4" y1="2604.5" x2="1410.4" y2="2609.6" stroke="#000" stroke-width="2.4"/>
<line x1="1410.4" y1="2616" x2="1410.4" y2="2621.6" stroke="#000" stroke-width="2.4"/>
<rect x="1023" y="2801.2" width="4.2" height="8.9" fill="#000"/>
<rect x="1038.7" y="2801.2" width="6" height="8.9" fill="#000"/>
<rect x="1142.8" y="2801.2" width="61.7" height="8.9" fill="#000"/>
<rect x="1380.6" y="2801.2" width="58.1" height="8.9" fill="#000"/>
<text id="t0" x="304.4" y="422" font-size="52.5" textLength="29" lengthAdjust="spacingAndGlyphs">2</text>
<text id="t1" x="440.4" y="422" font-size="52.5" textLength="25.7" lengthAdjust="spacingAndGlyphs">4</text>
<text id="t2" x="574.4" y="422" font-size="52.5" textLength="26.2" lengthAdjust="spacingAndGlyphs">6</text>
<text id="t3" x="708.9" y="422" font-size="52.5" textLength="26.2" lengthAdjust="spacingAndGlyphs">8</text>
<text id="t4" transform="translate(193.3,146.3) rotate(-90)" font-size="52.5" textLength="72.5" lengthAdjust="spacingAndGlyphs">100</text>
<text id="t5" transform="translate(193.3,216) rotate(-90)" font-size="52.5" textLength="50.5" lengthAdjust="spacingAndGlyphs">50</text>
<text id="t6" transform="translate(193.3,264.9) rotate(-90)" font-size="52.5" textLength="25.5" lengthAdjust="spacingAndGlyphs">0</text>
<text id="t7" transform="translate(193.3,368.9) rotate(-90)" font-size="52.5" textLength="74.2" lengthAdjust="spacingAndGlyphs">−50</text>
<text id="t8" x="365.8" y="478.8" font-size="52.5" textLength="251.7" lengthAdjust="spacingAndGlyphs">Engine Size</text>
<text id="t9" transform="translate(116.1,376.9) rotate(-90)" font-size="52.5" textLength="321.1" lengthAdjust="spacingAndGlyphs"><tspan font-style="italic">f</tspan><tspan font-size="33.6" dy="10">1</tspan><tspan dy="-10">(Engine Size)</tspan></text>
<text id="t10" x="1016.8" y="421.7" font-size="52.5" textLength="28.5" lengthAdjust="spacingAndGlyphs">0</text>
<text id="t11" x="1113.4" y="421.7" font-size="52.5" textLength="29.2" lengthAdjust="spacingAndGlyphs">2</text>
<text id="t12" x="1211.8" y="421.7" font-size="52.5" textLength="25.7" lengthAdjust="spacingAndGlyphs">4</text>
<text id="t13" x="1309" y="421.7" font-size="52.5" textLength="26.2" lengthAdjust="spacingAndGlyphs">6</text>
<text id="t14" x="1405.6" y="421.7" font-size="52.5" textLength="26.6" lengthAdjust="spacingAndGlyphs">8</text>
<text id="t15" x="1492.6" y="421.7" font-size="52.5" textLength="52.8" lengthAdjust="spacingAndGlyphs">10</text>
<text id="t16" transform="translate(966.7,120.7) rotate(-90)" font-size="52.5" textLength="48.3" lengthAdjust="spacingAndGlyphs">10</text>
<text id="t17" transform="translate(966.7,252.6) rotate(-90)" font-size="52.5" textLength="72.2" lengthAdjust="spacingAndGlyphs">−10</text>
<text id="t18" transform="translate(966.7,369.9) rotate(-90)" font-size="52.5" textLength="69.5" lengthAdjust="spacingAndGlyphs">−30</text>
<text id="t19" x="1216.2" y="478.6" font-size="52.5" textLength="106.1" lengthAdjust="spacingAndGlyphs">Gear</text>
<text id="t20" transform="translate(889,302.5) rotate(-90)" font-size="52.5" textLength="177.7" lengthAdjust="spacingAndGlyphs"><tspan font-style="italic">f</tspan><tspan font-size="33.6" dy="10">2</tspan><tspan dy="-10">(Gear)</tspan></text>
<text id="t21" x="280.9" y="889" font-size="52.5" textLength="26.1" lengthAdjust="spacingAndGlyphs">4</text>
<text id="t22" x="356.5" y="889" font-size="52.5" textLength="24.5" lengthAdjust="spacingAndGlyphs">6</text>
<text id="t23" x="427.9" y="889" font-size="52.5" textLength="27.1" lengthAdjust="spacingAndGlyphs">8</text>
<text id="t24" x="494.6" y="889" font-size="52.5" textLength="50.5" lengthAdjust="spacingAndGlyphs">10</text>
<text id="t25" x="570.4" y="889" font-size="52.5" textLength="51.6" lengthAdjust="spacingAndGlyphs">12</text>
<text id="t26" x="645.2" y="889" font-size="52.5" textLength="51.3" lengthAdjust="spacingAndGlyphs">14</text>
<text id="t27" x="722.2" y="889" font-size="52.5" textLength="49.6" lengthAdjust="spacingAndGlyphs">16</text>
<text id="t28" transform="translate(194.2,580.3) rotate(-90)" font-size="52.5" textLength="72" lengthAdjust="spacingAndGlyphs">200</text>
<text id="t29" transform="translate(194.2,704.1) rotate(-90)" font-size="52.5" textLength="72.8" lengthAdjust="spacingAndGlyphs">100</text>
<text id="t30" transform="translate(194.2,802.3) rotate(-90)" font-size="52.5" textLength="26.7" lengthAdjust="spacingAndGlyphs">0</text>
<text id="t31" x="378.3" y="944.3" font-size="52.5" textLength="214.4" lengthAdjust="spacingAndGlyphs">Cylinders</text>
<text id="t32" transform="translate(116.5,811) rotate(-90)" font-size="52.5" textLength="283.5" lengthAdjust="spacingAndGlyphs"><tspan font-style="italic">f</tspan><tspan font-size="33.6" dy="10">3</tspan><tspan dy="-10">(Cylinders)</tspan></text>
<text id="t33" transform="translate(966.8,562.4) rotate(-90)" font-size="52.5" textLength="40.6" lengthAdjust="spacingAndGlyphs">10</text>
<text id="t34" transform="translate(966.8,610) rotate(-90)" font-size="52.5" textLength="25.1" lengthAdjust="spacingAndGlyphs">5</text>
<text id="t35" transform="translate(966.8,735.1) rotate(-90)" font-size="52.5" textLength="43" lengthAdjust="spacingAndGlyphs">−5</text>
<text id="t36" transform="translate(966.8,851) rotate(-90)" font-size="52.5" textLength="62.4" lengthAdjust="spacingAndGlyphs">−15</text>
<text id="t37" x="1011.3" y="533.5" font-size="37" textLength="27.2" lengthAdjust="spacingAndGlyphs">D</text>
<text id="t38" x="1049.2" y="533.5" font-size="37" textLength="21.6" lengthAdjust="spacingAndGlyphs">E</text>
<text id="t39" x="1163.9" y="533.5" font-size="37" textLength="24.7" lengthAdjust="spacingAndGlyphs">X</text>
<text id="t40" x="1395.8" y="533.5" font-size="37" textLength="28.4" lengthAdjust="spacingAndGlyphs">Z</text>
<text id="t41" x="1162" y="944" font-size="52.5" textLength="218.3" lengthAdjust="spacingAndGlyphs">Fuel Type</text>
<text id="t42" transform="translate(889,810.2) rotate(-90)" font-size="52.5" textLength="288.1" lengthAdjust="spacingAndGlyphs"><tspan font-style="italic">f</tspan><tspan font-size="33.6" dy="10">4</tspan><tspan dy="-10">(Fuel Type)</tspan></text>
<text id="t43" x="685.8" y="1000.2" font-size="52.5" textLength="231.6" lengthAdjust="spacingAndGlyphs">(a) GAM-1</text>
<text id="t44" x="306.5" y="1410.5" font-size="52.5" textLength="28.4" lengthAdjust="spacingAndGlyphs">2</text>
<text id="t45" x="441.2" y="1410.5" font-size="52.5" textLength="27.1" lengthAdjust="spacingAndGlyphs">4</text>
<text id="t46" x="575.9" y="1410.5" font-size="52.5" textLength="25.4" lengthAdjust="spacingAndGlyphs">6</text>
<text id="t47" x="710.4" y="1410.5" font-size="52.5" textLength="25.1" lengthAdjust="spacingAndGlyphs">8</text>
<text id="t48" transform="translate(191.5,1135.2) rotate(-90)" font-size="52.5" textLength="70.9" lengthAdjust="spacingAndGlyphs">100</text>
<text id="t49" transform="translate(191.5,1235.4) rotate(-90)" font-size="52.5" textLength="28.6" lengthAdjust="spacingAndGlyphs">0</text>
<text id="t50" transform="translate(191.5,1398.8) rotate(-90)" font-size="52.5" textLength="101.8" lengthAdjust="spacingAndGlyphs">−100</text>
<text id="t51" x="363.5" y="1472.5" font-size="52.5" textLength="252.9" lengthAdjust="spacingAndGlyphs">Engine Size</text>
<text id="t52" transform="translate(116,1387.4) rotate(-90)" font-size="52.5" textLength="322.7" lengthAdjust="spacingAndGlyphs"><tspan font-style="italic">f</tspan><tspan font-size="33.6" dy="10">1</tspan><tspan dy="-10">(Engine Size)</tspan></text>
<text id="t53" x="1018.4" y="1410" font-size="52.5" textLength="27.4" lengthAdjust="spacingAndGlyphs">0</text>
<text id="t54" x="1114.9" y="1410" font-size="52.5" textLength="29" lengthAdjust="spacingAndGlyphs">2</text>
<text id="t55" x="1214" y="1410" font-size="52.5" textLength="25.1" lengthAdjust="spacingAndGlyphs">4</text>
<text id="t56" x="1309.8" y="1410" font-size="52.5" textLength="26.5" lengthAdjust="spacingAndGlyphs">6</text>
<text id="t57" x="1406.7" y="1410" font-size="52.5" textLength="27.3" lengthAdjust="spacingAndGlyphs">8</text>
<text id="t58" x="1494.4" y="1410" font-size="52.5" textLength="51.6" lengthAdjust="spacingAndGlyphs">10</text>
<text id="t59" transform="translate(965.5,1105) rotate(-90)" font-size="52.5" textLength="48.9" lengthAdjust="spacingAndGlyphs">40</text>
<text id="t60" transform="translate(965.5,1202.2) rotate(-90)" font-size="52.5" textLength="25" lengthAdjust="spacingAndGlyphs">0</text>
<text id="t61" transform="translate(965.5,1353.5) rotate(-90)" font-size="52.5" textLength="68.2" lengthAdjust="spacingAndGlyphs">−40</text>
<text id="t62" x="1215.3" y="1472.5" font-size="52.5" textLength="105" lengthAdjust="spacingAndGlyphs">Gear</text>
<text id="t63" transform="translate(888.5,1287.4) rotate(-90)" font-size="52.5" textLength="176.7" lengthAdjust="spacingAndGlyphs"><tspan font-style="italic">f</tspan><tspan font-size="33.6" dy="10">2</tspan><tspan dy="-10">(Gear)</tspan></text>
<text id="t64" x="282.3" y="1876" font-size="52.5" textLength="26.2" lengthAdjust="spacingAndGlyphs">4</text>
<text id="t65" x="353.7" y="1876" font-size="52.5" textLength="25.9" lengthAdjust="spacingAndGlyphs">6</text>
<text id="t66" x="429.6" y="1876" font-size="52.5" textLength="25.3" lengthAdjust="spacingAndGlyphs">8</text>
<text id="t67" x="495.5" y="1876" font-size="52.5" textLength="51.4" lengthAdjust="spacingAndGlyphs">10</text>
<text id="t68" x="570.7" y="1876" font-size="52.5" textLength="53.3" lengthAdjust="spacingAndGlyphs">12</text>
<text id="t69" x="647.3" y="1876" font-size="52.5" textLength="50.6" lengthAdjust="spacingAndGlyphs">14</text>
<text id="t70" x="723.6" y="1876" font-size="52.5" textLength="49.2" lengthAdjust="spacingAndGlyphs">16</text>
<text id="t71" transform="translate(191,1568.9) rotate(-90)" font-size="52.5" textLength="70.6" lengthAdjust="spacingAndGlyphs">250</text>
<text id="t72" transform="translate(191,1674.2) rotate(-90)" font-size="52.5" textLength="68.9" lengthAdjust="spacingAndGlyphs">150</text>
<text id="t73" transform="translate(191,1767.8) rotate(-90)" font-size="52.5" textLength="46" lengthAdjust="spacingAndGlyphs">50</text>
<text id="t74" transform="translate(191,1807.2) rotate(-90)" font-size="52.5" textLength="27.1" lengthAdjust="spacingAndGlyphs">0</text>
<text id="t75" x="377.1" y="1933.4" font-size="52.5" textLength="213.5" lengthAdjust="spacingAndGlyphs">Cylinders</text>
<text id="t76" transform="translate(116,1800.7) rotate(-90)" font-size="52.5" textLength="283.1" lengthAdjust="spacingAndGlyphs"><tspan font-style="italic">f</tspan><tspan font-size="33.6" dy="10">3</tspan><tspan dy="-10">(Cylinders)</tspan></text>
<text id="t77" transform="translate(965.5,1601.3) rotate(-90)" font-size="52.5" textLength="23.8" lengthAdjust="spacingAndGlyphs">0</text>
<text id="t78" transform="translate(965.5,1701.5) rotate(-90)" font-size="52.5" textLength="51.3" lengthAdjust="spacingAndGlyphs">−5</text>
<text id="t79" transform="translate(965.5,1796.5) rotate(-90)" font-size="52.5" textLength="72.5" lengthAdjust="spacingAndGlyphs">−10</text>
<text id="t80" x="1010.1" y="1525.3" font-size="37" textLength="27.2" lengthAdjust="spacingAndGlyphs">D</text>
<text id="t81" x="1048" y="1525.3" font-size="37" textLength="20.5" lengthAdjust="spacingAndGlyphs">E</text>
<text id="t82" x="1161.9" y="1525.3" font-size="37" textLength="24.4" lengthAdjust="spacingAndGlyphs">X</text>
<text id="t83" x="1399.3" y="1525.3" font-size="37" textLength="27.6" lengthAdjust="spacingAndGlyphs">Z</text>
<text id="t84" x="1160.6" y="1933.5" font-size="52.5" textLength="218.5" lengthAdjust="spacingAndGlyphs">Fuel Type</text>
<text id="t85" transform="translate(888.5,1816) rotate(-90)" font-size="52.5" textLength="288.1" lengthAdjust="spacingAndGlyphs"><tspan font-style="italic">f</tspan><tspan font-size="33.6" dy="10">4</tspan><tspan dy="-10">(Fuel Type)</tspan></text>
<text id="t86" x="685.8" y="1990.2" font-size="52.5" textLength="236.3" lengthAdjust="spacingAndGlyphs">(b) GAM-2</text>
<text id="t87" x="309.8" y="2400.5" font-size="52.5" textLength="27.8" lengthAdjust="spacingAndGlyphs">2</text>
<text id="t88" x="441.2" y="2400.5" font-size="52.5" textLength="25.1" lengthAdjust="spacingAndGlyphs">4</text>
<text id="t89" x="573.9" y="2400.5" font-size="52.5" textLength="27.3" lengthAdjust="spacingAndGlyphs">6</text>
<text id="t90" x="708.3" y="2400.5" font-size="52.5" textLength="26.1" lengthAdjust="spacingAndGlyphs">8</text>
<text id="t91" transform="translate(191,2113.9) rotate(-90)" font-size="52.5" textLength="76.6" lengthAdjust="spacingAndGlyphs">100</text>
<text id="t92" transform="translate(191,2181.7) rotate(-90)" font-size="52.5" textLength="48.1" lengthAdjust="spacingAndGlyphs">50</text>
<text id="t93" transform="translate(191,2234.9) rotate(-90)" font-size="52.5" textLength="28.5" lengthAdjust="spacingAndGlyphs">0</text>
<text id="t94" transform="translate(191,2333.8) rotate(-90)" font-size="52.5" textLength="72" lengthAdjust="spacingAndGlyphs">−50</text>
<text id="t95" x="363.6" y="2461.8" font-size="52.5" textLength="251.5" lengthAdjust="spacingAndGlyphs">Engine Size</text>
<text id="t96" transform="translate(114.5,2376.5) rotate(-90)" font-size="52.5" textLength="321.7" lengthAdjust="spacingAndGlyphs"><tspan font-style="italic">f</tspan><tspan font-size="33.6" dy="10">1</tspan><tspan dy="-10">(Engine Size)</tspan></text>
<text id="t97" x="1018.4" y="2400" font-size="52.5" textLength="26.2" lengthAdjust="spacingAndGlyphs">0</text>
<text id="t98" x="1109.3" y="2400" font-size="52.5" textLength="28.9" lengthAdjust="spacingAndGlyphs">2</text>
<text id="t99" x="1208" y="2400" font-size="52.5" textLength="24.7" lengthAdjust="spacingAndGlyphs">4</text>
<text id="t100" x="1304.4" y="2400" font-size="52.5" textLength="25.6" lengthAdjust="spacingAndGlyphs">6</text>
<text id="t101" x="1401.9" y="2400" font-size="52.5" textLength="25.7" lengthAdjust="spacingAndGlyphs">8</text>
<text id="t102" x="1488.3" y="2400" font-size="52.5" textLength="52.7" lengthAdjust="spacingAndGlyphs">10</text>
<text id="t103" transform="translate(964.2,2086.5) rotate(-90)" font-size="52.5" textLength="50.6" lengthAdjust="spacingAndGlyphs">10</text>
<text id="t104" transform="translate(964.2,2217.5) rotate(-90)" font-size="52.5" textLength="74.6" lengthAdjust="spacingAndGlyphs">−10</text>
<text id="t105" transform="translate(964.2,2339.9) rotate(-90)" font-size="52.5" textLength="74.6" lengthAdjust="spacingAndGlyphs">−30</text>
<text id="t106" x="1212.6" y="2461.8" font-size="52.5" textLength="104.7" lengthAdjust="spacingAndGlyphs">Gear</text>
<text id="t107" transform="translate(887.5,2277.5) rotate(-90)" font-size="52.5" textLength="179.1" lengthAdjust="spacingAndGlyphs"><tspan font-style="italic">f</tspan><tspan font-size="33.6" dy="10">2</tspan><tspan dy="-10">(Gear)</tspan></text>
<text id="t108" x="282.3" y="2870" font-size="52.5" textLength="26.2" lengthAdjust="spacingAndGlyphs">4</text>
<text id="t109" x="355.3" y="2870" font-size="52.5" textLength="25.9" lengthAdjust="spacingAndGlyphs">6</text>
<text id="t110" x="429.6" y="2870" font-size="52.5" textLength="25.3" lengthAdjust="spacingAndGlyphs">8</text>
<text id="t111" x="495.2" y="2870" font-size="52.5" textLength="52.9" lengthAdjust="spacingAndGlyphs">10</text>
<text id="t112" x="570.3" y="2870" font-size="52.5" textLength="53.8" lengthAdjust="spacingAndGlyphs">12</text>
<text id="t113" x="647.3" y="2870" font-size="52.5" textLength="50.6" lengthAdjust="spacingAndGlyphs">14</text>
<text id="t114" x="723.6" y="2870" font-size="52.5" textLength="49.2" lengthAdjust="spacingAndGlyphs">16</text>
<text id="t115" transform="translate(194.2,2589.1) rotate(-90)" font-size="52.5" textLength="74.4" lengthAdjust="spacingAndGlyphs">200</text>
<text id="t116" transform="translate(194.2,2702.5) rotate(-90)" font-size="52.5" textLength="72.3" lengthAdjust="spacingAndGlyphs">100</text>
<text id="t117" transform="translate(194.2,2785.1) rotate(-90)" font-size="52.5" textLength="25.5" lengthAdjust="spacingAndGlyphs">0</text>
<text id="t118" x="374.7" y="2923.3" font-size="52.5" textLength="213.3" lengthAdjust="spacingAndGlyphs">Cylinders</text>
<text id="t119" transform="translate(116,2790.7) rotate(-90)" font-size="52.5" textLength="284.5" lengthAdjust="spacingAndGlyphs"><tspan font-style="italic">f</tspan><tspan font-size="33.6" dy="10">3</tspan><tspan dy="-10">(Cylinders)</tspan></text>
<text id="t120" transform="translate(964.2,2548.4) rotate(-90)" font-size="52.5" textLength="48.9" lengthAdjust="spacingAndGlyphs">10</text>
<text id="t121" transform="translate(964.2,2597.2) rotate(-90)" font-size="52.5" textLength="27.4" lengthAdjust="spacingAndGlyphs">5</text>
<text id="t122" transform="translate(964.2,2717.3) rotate(-90)" font-size="52.5" textLength="44.1" lengthAdjust="spacingAndGlyphs">−5</text>
<text id="t123" transform="translate(964.2,2852.2) rotate(-90)" font-size="52.5" textLength="75" lengthAdjust="spacingAndGlyphs">−15</text>
<text id="t124" x="1016.5" y="2516.8" font-size="37" textLength="29" lengthAdjust="spacingAndGlyphs">D</text>
<text id="t125" x="1055" y="2516.8" font-size="37" textLength="22.2" lengthAdjust="spacingAndGlyphs">E</text>
<text id="t126" x="1169.3" y="2516.8" font-size="37" textLength="24.3" lengthAdjust="spacingAndGlyphs">X</text>
<text id="t127" x="1406.4" y="2516.8" font-size="37" textLength="27.7" lengthAdjust="spacingAndGlyphs">Z</text>
<text id="t128" x="1158.6" y="2923.5" font-size="52.5" textLength="218.3" lengthAdjust="spacingAndGlyphs">Fuel Type</text>
<text id="t129" transform="translate(887.5,2806.1) rotate(-90)" font-size="52.5" textLength="288.1" lengthAdjust="spacingAndGlyphs"><tspan font-style="italic">f</tspan><tspan font-size="33.6" dy="10">4</tspan><tspan dy="-10">(Fuel Type)</tspan></text>
<text id="t130" x="685.8" y="2979.5" font-size="52.5" textLength="274.7" lengthAdjust="spacingAndGlyphs">(c) GAM-CV</text>
</svg>
</body></html>
